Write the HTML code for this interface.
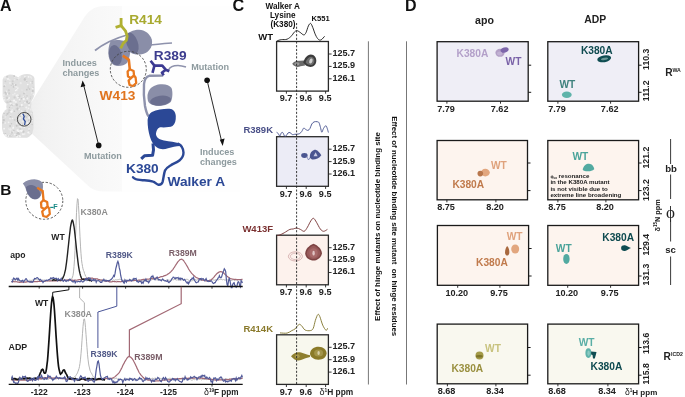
<!DOCTYPE html>
<html><head><meta charset="utf-8"><style>
html,body{margin:0;padding:0;background:#fff;width:685px;height:397px;overflow:hidden}
svg{display:block;font-family:"Liberation Sans", sans-serif;will-change:transform}
</style></head><body>
<svg width="685" height="397" viewBox="0 0 685 397">
<defs>
<linearGradient id="cone" gradientUnits="userSpaceOnUse" x1="29" y1="0" x2="122" y2="0">
<stop offset="0" stop-color="#eeeeee"/>
<stop offset="0.17" stop-color="#f2f2f2"/>
<stop offset="0.44" stop-color="#f5f5f5"/>
<stop offset="0.76" stop-color="#f8f8f8"/>
<stop offset="1" stop-color="#fafafa"/>
</linearGradient>
</defs>
<path d="M29,106 L82,21 Q90,6 104,6 L122,6 L122,191.5 L104,191.5 Q96,191.5 90,187.5 L29,131 Z" fill="url(#cone)"/>
<rect x="122" y="6" width="118" height="185.5" fill="#fefefe"/>
<path d="M2.6,80 C3,77 6,75 10,74.5 C14,74.5 16,76 18.5,77.5 C20,75.5 23,74 27,74 C31,74.2 33.5,75.5 34.4,78 L34.8,92 C34.5,96 33,99 31.5,101 L31,108 C32.5,111 33.5,114 33.5,118 L33.5,128 C33,133 30.5,136.5 27,137.8 L8,137.8 C4.5,136.5 2.5,133 2,128 L2,116 C2.5,113 4,111 6,109.5 L6.5,104 C4,102 2.6,99 2.6,95 Z" fill="#e0e0e0"/>
<clipPath id="prot"><path d="M2.6,80 C3,77 6,75 10,74.5 C14,74.5 16,76 18.5,77.5 C20,75.5 23,74 27,74 C31,74.2 33.5,75.5 34.4,78 L34.8,92 C34.5,96 33,99 31.5,101 L31,108 C32.5,111 33.5,114 33.5,118 L33.5,128 C33,133 30.5,136.5 27,137.8 L8,137.8 C4.5,136.5 2.5,133 2,128 L2,116 C2.5,113 4,111 6,109.5 L6.5,104 C4,102 2.6,99 2.6,95 Z"/></clipPath>
<g clip-path="url(#prot)"><circle cx="22.3" cy="121.2" r="0.5" fill="#f6f6f6"/><circle cx="17.4" cy="133.5" r="1.1" fill="#c8c8c8"/><circle cx="6.5" cy="104.6" r="0.8" fill="#f2f2f2"/><circle cx="6.2" cy="91.2" r="0.8" fill="#f2f2f2"/><circle cx="8.6" cy="128.9" r="0.6" fill="#ececec"/><circle cx="27.7" cy="84.5" r="0.8" fill="#f6f6f6"/><circle cx="7.1" cy="135.3" r="0.6" fill="#c8c8c8"/><circle cx="9.7" cy="135.9" r="0.7" fill="#f2f2f2"/><circle cx="32.8" cy="108.9" r="0.6" fill="#f2f2f2"/><circle cx="33.0" cy="88.0" r="0.7" fill="#ececec"/><circle cx="14.2" cy="86.1" r="0.7" fill="#f2f2f2"/><circle cx="13.3" cy="125.9" r="0.5" fill="#f6f6f6"/><circle cx="24.0" cy="96.6" r="0.7" fill="#d0d0d0"/><circle cx="12.5" cy="118.5" r="0.8" fill="#f2f2f2"/><circle cx="24.8" cy="79.5" r="1.2" fill="#c8c8c8"/><circle cx="14.1" cy="100.7" r="1.1" fill="#f6f6f6"/><circle cx="14.4" cy="111.3" r="0.8" fill="#c8c8c8"/><circle cx="24.9" cy="114.0" r="0.6" fill="#f2f2f2"/><circle cx="10.6" cy="126.0" r="0.7" fill="#ececec"/><circle cx="14.0" cy="108.0" r="0.6" fill="#ececec"/><circle cx="26.2" cy="124.6" r="0.5" fill="#d0d0d0"/><circle cx="32.3" cy="81.6" r="0.9" fill="#d0d0d0"/><circle cx="14.2" cy="85.0" r="1.1" fill="#d0d0d0"/><circle cx="19.9" cy="95.1" r="0.7" fill="#d0d0d0"/><circle cx="27.8" cy="114.2" r="1.2" fill="#d0d0d0"/><circle cx="8.0" cy="79.0" r="0.9" fill="#f6f6f6"/><circle cx="15.6" cy="90.5" r="0.7" fill="#f6f6f6"/><circle cx="10.8" cy="115.7" r="0.5" fill="#f2f2f2"/><circle cx="31.4" cy="78.0" r="0.7" fill="#ececec"/><circle cx="9.4" cy="135.9" r="1.2" fill="#f6f6f6"/><circle cx="22.5" cy="124.1" r="0.6" fill="#c8c8c8"/><circle cx="14.6" cy="79.6" r="0.7" fill="#ececec"/><circle cx="17.0" cy="137.0" r="1.2" fill="#f2f2f2"/><circle cx="17.1" cy="105.8" r="0.8" fill="#d0d0d0"/><circle cx="12.0" cy="100.6" r="0.6" fill="#f2f2f2"/><circle cx="28.5" cy="108.4" r="0.9" fill="#f2f2f2"/><circle cx="18.5" cy="96.6" r="0.8" fill="#c8c8c8"/><circle cx="19.0" cy="109.4" r="0.8" fill="#f6f6f6"/><circle cx="27.4" cy="123.3" r="1.0" fill="#f6f6f6"/><circle cx="26.5" cy="98.2" r="1.1" fill="#d0d0d0"/><circle cx="11.2" cy="135.8" r="1.2" fill="#d0d0d0"/><circle cx="13.5" cy="86.9" r="0.8" fill="#c8c8c8"/><circle cx="27.0" cy="95.9" r="0.8" fill="#d0d0d0"/><circle cx="28.3" cy="115.5" r="0.7" fill="#d0d0d0"/><circle cx="23.0" cy="121.0" r="0.7" fill="#ececec"/><circle cx="29.1" cy="129.1" r="1.2" fill="#ececec"/><circle cx="32.7" cy="107.6" r="1.2" fill="#f6f6f6"/><circle cx="9.2" cy="98.1" r="0.7" fill="#ececec"/><circle cx="5.4" cy="116.9" r="0.6" fill="#ececec"/><circle cx="27.2" cy="111.4" r="0.7" fill="#ececec"/><circle cx="20.1" cy="128.9" r="1.0" fill="#d0d0d0"/><circle cx="3.9" cy="85.8" r="0.9" fill="#ececec"/><circle cx="8.6" cy="122.3" r="0.9" fill="#f2f2f2"/><circle cx="4.3" cy="104.8" r="0.6" fill="#f2f2f2"/><circle cx="30.6" cy="82.8" r="0.8" fill="#f2f2f2"/><circle cx="20.0" cy="101.3" r="0.8" fill="#d0d0d0"/><circle cx="22.0" cy="112.0" r="1.0" fill="#f2f2f2"/><circle cx="14.6" cy="97.4" r="1.1" fill="#d0d0d0"/><circle cx="29.9" cy="118.0" r="0.8" fill="#f6f6f6"/><circle cx="4.1" cy="113.4" r="0.7" fill="#c8c8c8"/><circle cx="18.9" cy="134.0" r="1.2" fill="#d0d0d0"/><circle cx="28.4" cy="101.6" r="0.9" fill="#f6f6f6"/><circle cx="14.5" cy="84.7" r="0.8" fill="#f6f6f6"/><circle cx="17.8" cy="88.1" r="0.9" fill="#f2f2f2"/><circle cx="13.9" cy="130.5" r="0.8" fill="#c8c8c8"/><circle cx="13.1" cy="131.9" r="0.6" fill="#f6f6f6"/><circle cx="22.5" cy="130.4" r="0.8" fill="#ececec"/><circle cx="33.3" cy="106.1" r="1.2" fill="#ececec"/><circle cx="14.8" cy="134.6" r="0.9" fill="#f2f2f2"/><circle cx="11.1" cy="135.8" r="0.7" fill="#ececec"/><circle cx="3.6" cy="133.7" r="0.8" fill="#d0d0d0"/><circle cx="11.9" cy="105.1" r="1.0" fill="#c8c8c8"/><circle cx="32.8" cy="91.0" r="1.0" fill="#c8c8c8"/><circle cx="28.6" cy="76.8" r="0.9" fill="#f6f6f6"/><circle cx="10.5" cy="104.9" r="0.7" fill="#c8c8c8"/><circle cx="11.3" cy="85.4" r="0.7" fill="#d0d0d0"/><circle cx="21.8" cy="105.0" r="1.1" fill="#f6f6f6"/><circle cx="30.7" cy="77.0" r="0.7" fill="#f2f2f2"/><circle cx="19.5" cy="96.5" r="1.0" fill="#d0d0d0"/><circle cx="3.8" cy="97.3" r="0.6" fill="#f6f6f6"/><circle cx="3.1" cy="109.7" r="1.1" fill="#c8c8c8"/><circle cx="19.9" cy="76.9" r="0.9" fill="#ececec"/><circle cx="24.4" cy="134.1" r="1.1" fill="#ececec"/><circle cx="29.1" cy="105.0" r="1.1" fill="#f2f2f2"/><circle cx="17.4" cy="122.3" r="1.1" fill="#d0d0d0"/><circle cx="24.5" cy="102.4" r="1.0" fill="#d0d0d0"/><circle cx="17.6" cy="95.0" r="0.8" fill="#f2f2f2"/><circle cx="20.0" cy="106.4" r="0.9" fill="#d0d0d0"/><circle cx="16.2" cy="109.0" r="0.5" fill="#c8c8c8"/><circle cx="10.1" cy="126.0" r="1.0" fill="#c8c8c8"/><circle cx="3.8" cy="120.1" r="1.2" fill="#c8c8c8"/><circle cx="24.7" cy="79.0" r="0.7" fill="#c8c8c8"/><circle cx="23.0" cy="134.1" r="1.2" fill="#f2f2f2"/><circle cx="24.9" cy="102.7" r="0.9" fill="#f2f2f2"/><circle cx="15.8" cy="85.8" r="0.6" fill="#f6f6f6"/><circle cx="20.2" cy="116.3" r="0.7" fill="#c8c8c8"/><circle cx="20.7" cy="83.2" r="1.1" fill="#ececec"/><circle cx="7.2" cy="102.3" r="1.0" fill="#d0d0d0"/><circle cx="18.2" cy="97.6" r="1.1" fill="#d0d0d0"/><circle cx="7.3" cy="94.0" r="0.9" fill="#f6f6f6"/><circle cx="18.7" cy="131.5" r="0.9" fill="#f6f6f6"/><circle cx="9.8" cy="79.9" r="0.7" fill="#f2f2f2"/><circle cx="26.3" cy="107.5" r="1.1" fill="#f2f2f2"/><circle cx="29.8" cy="103.7" r="0.6" fill="#ececec"/><circle cx="25.1" cy="116.0" r="0.9" fill="#c8c8c8"/><circle cx="4.1" cy="128.7" r="0.9" fill="#f6f6f6"/><circle cx="10.4" cy="129.5" r="1.2" fill="#ececec"/><circle cx="6.3" cy="108.4" r="1.0" fill="#f6f6f6"/><circle cx="4.7" cy="85.2" r="1.0" fill="#ececec"/><circle cx="9.9" cy="83.1" r="1.1" fill="#ececec"/><circle cx="7.3" cy="114.1" r="1.1" fill="#d0d0d0"/><circle cx="12.0" cy="132.8" r="1.1" fill="#d0d0d0"/><circle cx="14.7" cy="120.1" r="1.0" fill="#d0d0d0"/><circle cx="27.9" cy="102.4" r="0.9" fill="#d0d0d0"/><circle cx="21.4" cy="111.0" r="0.8" fill="#f2f2f2"/><circle cx="6.0" cy="78.0" r="0.6" fill="#f2f2f2"/><circle cx="18.2" cy="133.2" r="0.5" fill="#d0d0d0"/><circle cx="17.6" cy="130.3" r="1.1" fill="#f6f6f6"/><circle cx="13.0" cy="104.2" r="0.6" fill="#f2f2f2"/><circle cx="7.9" cy="98.9" r="1.1" fill="#ececec"/><circle cx="17.6" cy="109.7" r="0.7" fill="#c8c8c8"/><circle cx="8.0" cy="93.5" r="0.5" fill="#f2f2f2"/><circle cx="30.8" cy="97.0" r="0.7" fill="#d0d0d0"/><circle cx="4.8" cy="77.3" r="0.8" fill="#ececec"/><circle cx="32.3" cy="83.2" r="0.7" fill="#d0d0d0"/><circle cx="23.9" cy="120.5" r="0.5" fill="#f2f2f2"/><circle cx="25.2" cy="111.1" r="0.9" fill="#c8c8c8"/><circle cx="31.3" cy="119.1" r="0.6" fill="#d0d0d0"/><circle cx="14.2" cy="80.1" r="0.6" fill="#ececec"/><circle cx="10.5" cy="117.0" r="1.0" fill="#c8c8c8"/><circle cx="16.4" cy="135.5" r="0.8" fill="#c8c8c8"/><circle cx="17.0" cy="117.6" r="0.5" fill="#f2f2f2"/><circle cx="20.0" cy="136.4" r="0.9" fill="#f6f6f6"/><circle cx="32.1" cy="119.7" r="1.1" fill="#f2f2f2"/><circle cx="18.2" cy="133.1" r="1.0" fill="#c8c8c8"/><circle cx="23.0" cy="106.3" r="0.5" fill="#c8c8c8"/><circle cx="28.8" cy="103.2" r="1.1" fill="#c8c8c8"/><circle cx="32.5" cy="87.9" r="0.9" fill="#f6f6f6"/><circle cx="8.8" cy="90.3" r="1.1" fill="#d0d0d0"/><circle cx="5.7" cy="136.1" r="0.9" fill="#f2f2f2"/><circle cx="29.6" cy="89.1" r="0.8" fill="#c8c8c8"/><circle cx="14.1" cy="101.8" r="0.9" fill="#ececec"/><circle cx="7.1" cy="76.8" r="1.0" fill="#d0d0d0"/><circle cx="30.6" cy="137.0" r="0.6" fill="#f6f6f6"/><circle cx="12.7" cy="81.3" r="1.1" fill="#d0d0d0"/><circle cx="12.7" cy="83.9" r="0.8" fill="#c8c8c8"/><circle cx="24.6" cy="124.7" r="1.0" fill="#f6f6f6"/><circle cx="11.6" cy="106.1" r="0.5" fill="#f2f2f2"/><circle cx="9.2" cy="93.4" r="1.1" fill="#d0d0d0"/><circle cx="5.2" cy="122.9" r="1.0" fill="#ececec"/><circle cx="20.2" cy="130.7" r="0.9" fill="#f2f2f2"/><circle cx="16.7" cy="125.8" r="1.0" fill="#c8c8c8"/><circle cx="24.7" cy="92.3" r="0.9" fill="#ececec"/><circle cx="13.0" cy="94.7" r="0.7" fill="#f2f2f2"/><circle cx="24.0" cy="93.4" r="0.9" fill="#c8c8c8"/><circle cx="25.9" cy="77.7" r="0.5" fill="#c8c8c8"/><circle cx="7.0" cy="97.8" r="1.2" fill="#d0d0d0"/><circle cx="22.0" cy="90.1" r="0.6" fill="#ececec"/><circle cx="9.2" cy="97.9" r="0.9" fill="#f2f2f2"/><circle cx="28.6" cy="120.3" r="0.7" fill="#c8c8c8"/><circle cx="21.8" cy="114.5" r="0.8" fill="#f2f2f2"/><circle cx="32.1" cy="124.5" r="0.7" fill="#c8c8c8"/><circle cx="16.8" cy="89.9" r="0.8" fill="#f6f6f6"/><circle cx="16.7" cy="122.8" r="0.9" fill="#f2f2f2"/><circle cx="33.1" cy="112.4" r="0.6" fill="#c8c8c8"/><circle cx="29.4" cy="117.8" r="1.2" fill="#f2f2f2"/><circle cx="4.0" cy="111.2" r="1.0" fill="#ececec"/><circle cx="14.0" cy="104.3" r="0.7" fill="#f2f2f2"/><circle cx="9.2" cy="110.3" r="1.0" fill="#d0d0d0"/><circle cx="27.3" cy="98.4" r="1.1" fill="#f2f2f2"/><circle cx="23.6" cy="131.4" r="0.9" fill="#c8c8c8"/><circle cx="15.4" cy="84.7" r="0.8" fill="#f2f2f2"/><circle cx="4.2" cy="86.3" r="1.0" fill="#c8c8c8"/><circle cx="11.7" cy="132.2" r="0.8" fill="#d0d0d0"/><circle cx="17.6" cy="108.6" r="1.1" fill="#c8c8c8"/><circle cx="14.7" cy="76.6" r="0.9" fill="#f6f6f6"/><circle cx="22.2" cy="125.6" r="0.7" fill="#c8c8c8"/><circle cx="3.8" cy="95.0" r="0.9" fill="#ececec"/><circle cx="19.9" cy="118.1" r="1.2" fill="#ececec"/><circle cx="28.3" cy="132.4" r="1.0" fill="#f6f6f6"/><circle cx="19.6" cy="124.7" r="1.2" fill="#d0d0d0"/><circle cx="3.6" cy="123.0" r="0.7" fill="#f2f2f2"/><circle cx="5.4" cy="81.3" r="0.9" fill="#d0d0d0"/><circle cx="29.8" cy="133.4" r="0.7" fill="#ececec"/><circle cx="31.8" cy="92.8" r="0.6" fill="#f2f2f2"/><circle cx="26.4" cy="116.9" r="1.1" fill="#d0d0d0"/><circle cx="24.3" cy="127.1" r="0.9" fill="#f6f6f6"/><circle cx="9.5" cy="107.5" r="0.7" fill="#c8c8c8"/><circle cx="33.2" cy="109.2" r="1.2" fill="#ececec"/><circle cx="23.8" cy="99.1" r="1.1" fill="#f6f6f6"/><circle cx="31.2" cy="113.4" r="0.7" fill="#ececec"/><circle cx="29.1" cy="130.2" r="0.7" fill="#d0d0d0"/><circle cx="6.1" cy="93.9" r="1.1" fill="#d0d0d0"/><circle cx="5.4" cy="134.0" r="0.9" fill="#c8c8c8"/><circle cx="26.8" cy="89.7" r="0.9" fill="#c8c8c8"/><circle cx="22.4" cy="115.0" r="1.0" fill="#f6f6f6"/><circle cx="15.9" cy="101.9" r="0.9" fill="#f6f6f6"/><circle cx="10.6" cy="101.5" r="0.9" fill="#c8c8c8"/><circle cx="33.0" cy="87.4" r="0.6" fill="#c8c8c8"/><circle cx="12.2" cy="109.9" r="0.6" fill="#f6f6f6"/><circle cx="8.9" cy="112.3" r="1.0" fill="#d0d0d0"/><circle cx="4.9" cy="105.6" r="1.2" fill="#f6f6f6"/><circle cx="12.9" cy="127.9" r="1.1" fill="#ececec"/><circle cx="10.1" cy="118.5" r="1.1" fill="#ececec"/><circle cx="3.0" cy="117.0" r="0.6" fill="#c8c8c8"/><circle cx="7.7" cy="113.6" r="0.9" fill="#c8c8c8"/><circle cx="16.7" cy="95.7" r="1.0" fill="#f2f2f2"/><circle cx="31.6" cy="134.4" r="0.8" fill="#c8c8c8"/><circle cx="28.2" cy="87.9" r="0.8" fill="#d0d0d0"/><circle cx="17.2" cy="117.5" r="0.7" fill="#c8c8c8"/><circle cx="32.2" cy="104.4" r="0.6" fill="#c8c8c8"/><circle cx="21.5" cy="98.8" r="0.8" fill="#c8c8c8"/><circle cx="32.8" cy="133.6" r="0.8" fill="#c8c8c8"/><circle cx="32.1" cy="119.5" r="0.6" fill="#c8c8c8"/><circle cx="17.8" cy="97.6" r="1.1" fill="#f2f2f2"/><circle cx="14.8" cy="93.7" r="0.9" fill="#ececec"/><circle cx="26.7" cy="81.4" r="0.7" fill="#c8c8c8"/><circle cx="13.4" cy="127.7" r="0.8" fill="#f6f6f6"/><circle cx="9.8" cy="136.1" r="1.0" fill="#d0d0d0"/><circle cx="5.3" cy="92.5" r="0.9" fill="#c8c8c8"/><circle cx="16.4" cy="87.0" r="1.1" fill="#ececec"/><circle cx="10.6" cy="103.6" r="1.1" fill="#f2f2f2"/><circle cx="3.2" cy="122.7" r="1.1" fill="#d0d0d0"/><circle cx="3.7" cy="110.3" r="1.1" fill="#ececec"/><circle cx="5.4" cy="135.3" r="1.2" fill="#f2f2f2"/><circle cx="16.7" cy="104.8" r="1.2" fill="#c8c8c8"/><circle cx="21.5" cy="127.2" r="0.9" fill="#ececec"/><circle cx="4.6" cy="100.0" r="0.8" fill="#f6f6f6"/><circle cx="21.4" cy="131.0" r="0.9" fill="#f6f6f6"/><circle cx="4.1" cy="77.5" r="1.1" fill="#ececec"/><circle cx="28.5" cy="102.4" r="0.5" fill="#ececec"/><circle cx="28.3" cy="86.2" r="0.6" fill="#d0d0d0"/><circle cx="27.2" cy="101.8" r="1.2" fill="#c8c8c8"/><circle cx="9.7" cy="101.7" r="0.6" fill="#d0d0d0"/><circle cx="14.3" cy="76.1" r="1.0" fill="#c8c8c8"/><circle cx="26.5" cy="80.7" r="0.5" fill="#ececec"/><circle cx="15.7" cy="85.1" r="1.0" fill="#c8c8c8"/><circle cx="18.3" cy="95.4" r="0.6" fill="#ececec"/><circle cx="10.3" cy="132.1" r="0.5" fill="#f6f6f6"/><circle cx="8.7" cy="102.2" r="0.6" fill="#d0d0d0"/><circle cx="23.3" cy="96.4" r="0.6" fill="#f2f2f2"/><circle cx="19.1" cy="135.5" r="0.6" fill="#f6f6f6"/><circle cx="6.4" cy="115.3" r="0.7" fill="#d0d0d0"/><circle cx="31.1" cy="109.4" r="1.2" fill="#ececec"/><circle cx="10.5" cy="110.7" r="0.5" fill="#d0d0d0"/><circle cx="3.4" cy="99.5" r="0.8" fill="#f2f2f2"/><circle cx="24.9" cy="76.5" r="0.8" fill="#f2f2f2"/><circle cx="18.6" cy="113.2" r="0.5" fill="#d0d0d0"/><circle cx="18.5" cy="78.3" r="1.1" fill="#ececec"/><circle cx="27.1" cy="110.0" r="0.8" fill="#ececec"/><circle cx="23.3" cy="132.4" r="0.9" fill="#d0d0d0"/><circle cx="11.5" cy="111.6" r="1.2" fill="#f6f6f6"/><circle cx="33.6" cy="94.4" r="0.9" fill="#f2f2f2"/><circle cx="24.2" cy="115.3" r="1.0" fill="#c8c8c8"/><circle cx="19.4" cy="99.7" r="0.7" fill="#f6f6f6"/><circle cx="20.1" cy="126.6" r="0.8" fill="#f2f2f2"/><circle cx="5.0" cy="76.2" r="0.6" fill="#f6f6f6"/><circle cx="17.1" cy="79.6" r="0.6" fill="#c8c8c8"/><circle cx="30.4" cy="98.8" r="0.7" fill="#d0d0d0"/><circle cx="11.5" cy="123.8" r="0.7" fill="#c8c8c8"/></g>
<circle cx="24.2" cy="119.3" r="6.8" fill="none" stroke="#333" stroke-width="0.9"/>
<path d="M22.8,113.8 L24.2,116.5 L23.4,119 L25.2,121.5 L24.6,125" fill="none" stroke="#2b4a9a" stroke-width="1.3"/>
<path d="M95,50.5 C100,46.5 104,44.3 109,41.8 C115,39 121,36.5 128.5,34.5" fill="none" stroke="#8e92ac" stroke-width="1.8"/>
<path d="M148,45.5 C156,44.2 164,43.6 172,43" fill="none" stroke="#8e92ac" stroke-width="1.5"/>
<path d="M168.5,70 C170,66.5 173,65.4 178,65.4 C181,65.4 184,66.3 186,67" fill="none" stroke="#8e92ac" stroke-width="1.5"/>
<path d="M163.2,75.6 L149.3,75.8 C146,76.5 144.5,79 144,84 C143.5,92 144,100 145,106 C146,111 147,114 148.5,116.5" fill="none" stroke="#8e92ac" stroke-width="2.4"/>
<path d="M111,41 C115,39.5 121,39.8 126,41.5 L130,44 C131,50 130,58 127,63 C124.5,65.5 119,66.5 115,65.5 C110.5,64 108.2,58 108.3,52 C108.4,47 109.5,43 111,41 Z" fill="#8a8ea8"/>
<ellipse cx="115.4" cy="55.2" rx="6.3" ry="10.3" fill="#6b6f8f" transform="rotate(-12 115.4 55.2)"/>
<path d="M126,37 C128,32 133,29.8 139,29.8 C145,30 150,34 151.8,39.5 C153,45 150.5,50.5 145.5,53 C140.5,55.2 134.5,55.2 130.5,52.6 C127.2,50 125.5,43 126,37 Z" fill="#8a8ea8"/>
<ellipse cx="132.2" cy="43" rx="5.6" ry="11" fill="#6b6f8f" transform="rotate(-20 132.2 43)"/>
<path d="M147.5,95 C148.5,89 152,86 158,84.5 C164,83.5 169.5,84.5 171.5,88 C173,92 172.5,98 171,101.5 C169,104.5 163,106 158,105.8 C153,105.5 149,104 148,101 C147.5,99 147.3,97 147.5,95 Z" fill="#8a8ea8"/>
<ellipse cx="160.5" cy="100.6" rx="10.6" ry="4.9" fill="#6b6f8f" transform="rotate(-8 160.5 100.6)"/>
<circle cx="128.3" cy="69.3" r="18" fill="none" stroke="#444" stroke-width="0.9" stroke-dasharray="2.3,1.7"/>
<path d="M151.9,112 C157,109.5 165,108.5 169.5,108.8 C173,109 175.5,111.5 175.8,116 C176,120.5 175,124 172.5,126 C170,127.5 164,127.5 160,127.3 C157.5,128 156,131.5 156,134.5 C156.5,137.5 159,139.5 164,140.5 C170,141.5 175,142 179,143.3 L180,146 C176,146 172,147 168,148.3 C164,149.6 160,149.5 157,147.5 C154,145.5 151.5,142 150,137 C148.5,132 147.5,126 147.6,120 C148,116 149.5,113.5 151.9,112 Z" fill="#2b4896"/>
<path d="M178.4,143.8 C181,145 183.3,148.5 183.5,152.6 C183.5,156 181.5,158.8 179.7,160.2 C176,163 173,163.5 170.9,165.2 C168,167 166,168 165,170.5 C164,173 163.5,178 162.7,181.6 C162,184 160.5,185 158.5,184.8 C156.5,184.5 155,182 153.2,181.6 C150,180.8 147,180.5 144.4,180.3 C140,180 137,180 135,178.8 C134,178.3 133.5,177.8 133,177.2" fill="none" stroke="#2b4896" stroke-width="2.4" stroke-linejoin="round" stroke-linecap="round"/>
<polyline points="153,143.5 153.5,150 152.6,155.3 144.4,155.8 141.2,158.9" fill="none" stroke="#2b4896" stroke-width="3" stroke-linejoin="round"/>
<polyline points="121.1,18 121.1,26" fill="none" stroke="#b0b032" stroke-width="2.8"/>
<polyline points="115.6,27.4 121.1,25.6 125.6,31.2 127.2,36.1 126.4,40.2 123.1,43.5 120.7,48.4" fill="none" stroke="#b0b032" stroke-width="2.8" stroke-linejoin="round"/>
<polyline points="122.8,55.6 128.8,59.6 129.8,69.3" fill="none" stroke="#e8781e" stroke-width="2.6" stroke-linejoin="round"/>
<path d="M129.8,69.3 L127.6,71.5 L128,76.5 L131,78 L134,75.5 L133.6,71 Z" fill="none" stroke="#e8781e" stroke-width="2.3" stroke-linejoin="round"/>
<path d="M131,78 L128.6,80.5 L129.6,85 L133,86 L136.2,83 L135.6,77.5 L134,75.5" fill="none" stroke="#e8781e" stroke-width="2.3" stroke-linejoin="round"/>
<polyline points="150.6,60.7 154.4,65.6 152.5,72.8" fill="none" stroke="#3c3a92" stroke-width="2.6" stroke-linejoin="round"/>
<polyline points="154.4,65.6 162.3,65.6 165.7,69.7 169.3,71.3" fill="none" stroke="#3c3a92" stroke-width="2.6" stroke-linejoin="round"/>
<polyline points="165.7,69.7 161.9,72.8 163.8,75.2" fill="none" stroke="#3c3a92" stroke-width="2.6" stroke-linejoin="round"/>
<text x="129.2" y="23.8" font-size="13.7" fill="#a8aa30" text-anchor="start" font-weight="bold" >R414</text>
<text x="153.8" y="60.2" font-size="13.7" fill="#3c3c8e" text-anchor="start" font-weight="bold" >R389</text>
<text x="99.6" y="100.2" font-size="13.7" fill="#e0741e" text-anchor="start" font-weight="bold" >W413</text>
<text x="126" y="173.1" font-size="13.7" fill="#2b4896" text-anchor="start" font-weight="bold" >K380</text>
<text x="167.5" y="186" font-size="13.7" fill="#2b4896" text-anchor="start" font-weight="bold" >Walker A</text>
<text x="62.5" y="66.2" font-size="9.1" fill="#8d9a9e" text-anchor="start" font-weight="bold" >Induces</text>
<text x="62.5" y="75.6" font-size="9.1" fill="#8d9a9e" text-anchor="start" font-weight="bold" >changes</text>
<text x="84" y="158.6" font-size="9.1" fill="#8d9a9e" text-anchor="start" font-weight="bold" >Mutation</text>
<text x="191.2" y="69.8" font-size="9.1" fill="#8d9a9e" text-anchor="start" font-weight="bold" >Mutation</text>
<text x="200" y="155.3" font-size="9.1" fill="#8d9a9e" text-anchor="start" font-weight="bold" >Induces</text>
<text x="200" y="165.3" font-size="9.1" fill="#8d9a9e" text-anchor="start" font-weight="bold" >changes</text>
<circle cx="98.7" cy="145.4" r="2.8" fill="#111"/>
<line x1="98.7" y1="145.4" x2="83.5" y2="84.5" stroke="#111" stroke-width="0.9"/>
<path d="M82.6,80.6 L80.6,87.2 L85.4,86 Z" fill="#111"/>
<circle cx="207.1" cy="80.3" r="2.8" fill="#111"/>
<line x1="207.1" y1="80.3" x2="221.8" y2="142" stroke="#111" stroke-width="0.9"/>
<path d="M222.7,146 L219.8,139.7 L224.6,138.6 Z" fill="#111"/>
<path d="M11.50,279.57 L12.00,279.72 L12.50,279.69 L13.00,279.61 L13.50,279.98 L14.00,280.00 L14.50,279.92 L15.00,280.48 L15.50,280.23 L16.00,279.81 L16.50,279.43 L17.00,279.39 L17.50,279.71 L18.00,280.02 L18.50,280.36 L19.00,280.84 L19.50,281.19 L20.00,281.15 L20.50,281.33 L21.00,281.27 L21.50,280.86 L22.00,280.95 L22.50,280.79 L23.00,280.58 L23.50,281.08 L24.00,281.12 L24.50,280.76 L25.00,280.60 L25.50,281.21 L26.00,280.91 L26.50,280.96 L27.00,280.98 L27.50,280.95 L28.00,280.96 L28.50,280.64 L29.00,280.38 L29.50,280.28 L30.00,280.13 L30.50,280.37 L31.00,280.78 L31.50,280.37 L32.00,280.48 L32.50,280.10 L33.00,279.89 L33.50,279.85 L34.00,279.93 L34.50,279.83 L35.00,279.09 L35.50,279.71 L36.00,279.70 L36.50,279.58 L37.00,279.89 L37.50,279.75 L38.00,279.38 L38.50,279.67 L39.00,279.88 L39.50,279.67 L40.00,280.01 L40.50,280.14 L41.00,279.78 L41.50,280.37 L42.00,280.40 L42.50,279.99 L43.00,280.15 L43.50,280.17 L44.00,280.45 L44.50,279.97 L45.00,280.31 L45.50,280.55 L46.00,280.67 L46.50,280.73 L47.00,281.00 L47.50,281.04 L48.00,280.89 L48.50,280.47 L49.00,280.73 L49.50,280.90 L50.00,280.83 L50.50,280.72 L51.00,280.82 L51.50,279.90 L52.00,280.03 L52.50,279.28 L53.00,279.52 L53.50,279.95 L54.00,280.55 L54.50,280.31 L55.00,280.40 L55.50,280.31 L56.00,279.59 L56.50,279.91 L57.00,279.94 L57.50,279.98 L58.00,279.72 L58.50,279.77 L59.00,279.86 L59.50,280.29 L60.00,280.34 L60.50,281.35 L61.00,280.97 L61.50,280.71 L62.00,280.56 L62.50,280.22 L63.00,280.65 L63.50,280.73 L64.00,280.21 L64.50,280.22 L65.00,280.53 L65.50,280.01 L66.00,280.06 L66.50,279.99 L67.00,280.70 L67.50,280.68 L68.00,280.41 L68.50,280.13 L69.00,280.63 L69.50,280.28 L70.00,280.79 L70.50,279.95 L71.00,279.59 L71.50,279.08 L72.00,278.20 L72.50,277.04 L73.00,275.36 L73.50,271.95 L74.00,266.56 L74.50,259.80 L75.00,250.49 L75.50,238.35 L76.00,225.56 L76.50,212.64 L77.00,203.78 L77.50,198.63 L78.00,199.17 L78.50,205.63 L79.00,214.62 L79.50,225.91 L80.00,236.81 L80.50,246.14 L81.00,253.73 L81.50,259.73 L82.00,263.50 L82.50,266.34 L83.00,268.81 L83.50,270.50 L84.00,271.58 L84.50,273.42 L85.00,274.60 L85.50,276.04 L86.00,276.52 L86.50,277.80 L87.00,277.92 L87.50,277.91 L88.00,278.31 L88.50,278.63 L89.00,279.08 L89.50,279.17 L90.00,279.59 L90.50,280.13 L91.00,279.95 L91.50,279.57 L92.00,279.56 L92.50,279.92 L93.00,280.21 L93.50,280.08 L94.00,279.78 L94.50,279.83 L95.00,280.17 L95.50,279.94 L96.00,280.36 L96.50,280.37 L97.00,280.40 L97.50,280.14 L98.00,280.54 L98.50,280.46 L99.00,279.93 L99.50,280.20 L100.00,280.05 L100.50,280.38 L101.00,280.37 L101.50,280.12 L102.00,280.16 L102.50,279.99 L103.00,279.76 L103.50,279.82 L104.00,280.13 L104.50,280.14 L105.00,280.10 L105.50,279.92 L106.00,280.12 L106.50,280.20 L107.00,280.46 L107.50,280.49 L108.00,281.06 L108.50,280.38 L109.00,280.30 L109.50,280.42 L110.00,280.62 L110.50,280.04 L111.00,279.68 L111.50,279.74 L112.00,280.13 L112.50,280.45 L113.00,279.91 L113.50,279.98 L114.00,280.35 L114.50,280.30 L115.00,279.94 L115.50,279.75 L116.00,279.41 L116.50,279.90 L117.00,279.86 L117.50,279.77 L118.00,279.56 L118.50,279.62 L119.00,279.43 L119.50,279.26 L120.00,279.41 L120.50,279.47 L121.00,279.73 L121.50,279.84 L122.00,280.24 L122.50,280.19 L123.00,280.25 L123.50,280.28 L124.00,279.99 L124.50,280.37 L125.00,280.13 L125.50,279.64 L126.00,280.10 L126.50,280.29 L127.00,280.08 L127.50,280.36 L128.00,280.60 L128.50,280.70 L129.00,280.22 L129.50,280.24 L130.00,279.89 L130.50,279.74 L131.00,279.63 L131.50,279.46 L132.00,279.73 L132.50,279.56 L133.00,279.85 L133.50,279.94 L134.00,279.78 L134.50,279.89 L135.00,280.13 L135.50,280.47 L136.00,280.31 L136.50,280.78 L137.00,280.81 L137.50,281.04 L138.00,280.44 L138.50,280.04 L139.00,280.41 L139.50,280.27 L140.00,280.37 L140.50,280.67 L141.00,280.11 L141.50,280.24 L142.00,280.79 L142.50,280.89 L143.00,280.75 L143.50,280.78 L144.00,280.64 L144.50,280.76 L145.00,281.01 L145.50,280.76 L146.00,280.79 L146.50,280.74 L147.00,280.83 L147.50,280.93 L148.00,280.43 L148.50,280.71 L149.00,280.84 L149.50,280.35 L150.00,280.21 L150.50,279.74 L151.00,279.72 L151.50,279.88 L152.00,279.57 L152.50,279.43 L153.00,279.29 L153.50,279.24 L154.00,279.17 L154.50,279.02 L155.00,279.40 L155.50,279.47 L156.00,279.34 L156.50,279.78 L157.00,279.67 L157.50,280.02 L158.00,279.65 L158.50,280.16 L159.00,280.00 L159.50,279.73 L160.00,279.92 L160.50,279.54 L161.00,279.32 L161.50,279.54 L162.00,279.50 L162.50,279.73 L163.00,279.84 L163.50,279.96 L164.00,280.02 L164.50,280.24 L165.00,280.21 L165.50,280.51 L166.00,280.71 L166.50,279.98 L167.00,279.47 L167.50,280.06 L168.00,279.92 L168.50,280.01 L169.00,279.98 L169.50,280.08 L170.00,280.74 L170.50,280.39 L171.00,280.35 L171.50,280.29 L172.00,279.92 L172.50,279.68 L173.00,279.68 L173.50,279.75 L174.00,279.93 L174.50,279.36 L175.00,279.03 L175.50,279.73 L176.00,279.74 L176.50,280.05 L177.00,279.93 L177.50,279.74 L178.00,280.44 L178.50,279.99 L179.00,279.73 L179.50,280.00 L180.00,280.02 L180.50,279.53 L181.00,279.68 L181.50,279.97 L182.00,279.53 L182.50,279.47 L183.00,279.82 L183.50,280.45 L184.00,279.67 L184.50,279.54 L185.00,279.65 L185.50,279.45 L186.00,279.30 L186.50,279.30 L187.00,279.61 L187.50,279.38 L188.00,279.77 L188.50,280.08 L189.00,280.33 L189.50,280.74 L190.00,280.44 L190.50,280.35 L191.00,280.59 L191.50,280.87 L192.00,280.99 L192.50,280.67 L193.00,280.40 L193.50,279.93 L194.00,279.82 L194.50,279.60 L195.00,279.54 L195.50,279.53 L196.00,279.89 L196.50,280.18 L197.00,280.14 L197.50,279.78 L198.00,279.82 L198.50,279.99 L199.00,280.26 L199.50,280.29 L200.00,280.48 L200.50,280.20 L201.00,280.37 L201.50,280.53 L202.00,280.32 L202.50,280.04 L203.00,280.42 L203.50,280.04 L204.00,280.25 L204.50,280.13 L205.00,280.01 L205.50,279.94 L206.00,279.83 L206.50,279.87 L207.00,280.44 L207.50,280.80 L208.00,280.61 L208.50,280.64 L209.00,280.80 L209.50,280.52 L210.00,280.98 L210.50,280.80 L211.00,280.84 L211.50,280.40 L212.00,279.99 L212.50,279.70 L213.00,279.58 L213.50,279.99 L214.00,279.90 L214.50,280.20 L215.00,280.04 L215.50,279.76 L216.00,279.87 L216.50,279.79 L217.00,279.34 L217.50,279.50 L218.00,279.96 L218.50,279.92 L219.00,279.58 L219.50,279.45 L220.00,279.21 L220.50,279.30 L221.00,279.17 L221.50,279.31 L222.00,279.51 L222.50,280.02 L223.00,279.68 L223.50,279.14 L224.00,279.81 L224.50,279.99 L225.00,279.89 L225.50,280.08 L226.00,279.79 L226.50,279.74 L227.00,280.01 L227.50,279.92 L228.00,279.99 L228.50,280.13 L229.00,280.15 L229.50,280.06 L230.00,280.21 L230.50,280.58 L231.00,280.86 L231.50,280.43 L232.00,280.58 L232.50,279.91 L233.00,279.51 L233.50,279.74 L234.00,279.96 L234.50,280.39 L235.00,279.81 L235.50,280.18 L236.00,279.99 L236.50,279.86 L237.00,280.03 L237.50,280.46 L238.00,280.10 L238.50,279.57 L239.00,279.49 L239.50,279.57 L240.00,280.02 L240.50,280.14 L241.00,280.03 L241.50,279.88 L242.00,279.78 L242.50,280.12" fill="none" stroke="#b4b4b4" stroke-width="1"/>
<path d="M11.50,281.56 L12.00,281.63 L12.50,281.76 L13.00,281.74 L13.50,281.64 L14.00,281.66 L14.50,281.74 L15.00,281.87 L15.50,281.77 L16.00,281.67 L16.50,281.77 L17.00,281.83 L17.50,282.00 L18.00,282.10 L18.50,282.09 L19.00,282.07 L19.50,282.32 L20.00,282.28 L20.50,282.20 L21.00,282.08 L21.50,282.09 L22.00,282.10 L22.50,282.06 L23.00,282.05 L23.50,282.07 L24.00,282.12 L24.50,282.21 L25.00,282.21 L25.50,282.02 L26.00,282.08 L26.50,281.92 L27.00,281.89 L27.50,281.74 L28.00,281.73 L28.50,281.65 L29.00,281.66 L29.50,281.96 L30.00,281.92 L30.50,281.97 L31.00,281.82 L31.50,281.76 L32.00,281.79 L32.50,281.75 L33.00,281.75 L33.50,281.73 L34.00,281.59 L34.50,281.61 L35.00,281.50 L35.50,281.64 L36.00,281.55 L36.50,281.57 L37.00,281.53 L37.50,281.57 L38.00,281.47 L38.50,281.51 L39.00,281.45 L39.50,281.51 L40.00,281.51 L40.50,281.47 L41.00,281.33 L41.50,281.35 L42.00,281.33 L42.50,281.43 L43.00,281.32 L43.50,281.31 L44.00,281.29 L44.50,281.25 L45.00,281.20 L45.50,281.15 L46.00,281.03 L46.50,280.87 L47.00,280.78 L47.50,280.78 L48.00,280.87 L48.50,280.90 L49.00,280.93 L49.50,280.94 L50.00,280.93 L50.50,280.88 L51.00,280.88 L51.50,280.98 L52.00,280.87 L52.50,280.74 L53.00,280.85 L53.50,280.80 L54.00,280.82 L54.50,280.83 L55.00,280.65 L55.50,280.82 L56.00,280.91 L56.50,280.85 L57.00,280.84 L57.50,280.78 L58.00,280.62 L58.50,280.55 L59.00,280.52 L59.50,280.57 L60.00,280.58 L60.50,280.52 L61.00,280.59 L61.50,280.46 L62.00,280.48 L62.50,280.53 L63.00,280.45 L63.50,280.23 L64.00,280.10 L64.50,280.10 L65.00,280.11 L65.50,280.23 L66.00,280.10 L66.50,280.07 L67.00,280.11 L67.50,280.06 L68.00,279.82 L68.50,279.88 L69.00,280.08 L69.50,280.15 L70.00,280.04 L70.50,279.98 L71.00,279.98 L71.50,280.19 L72.00,280.22 L72.50,280.19 L73.00,280.30 L73.50,280.25 L74.00,280.38 L74.50,280.26 L75.00,280.17 L75.50,280.19 L76.00,280.26 L76.50,280.26 L77.00,280.22 L77.50,279.98 L78.00,279.85 L78.50,279.73 L79.00,279.61 L79.50,279.60 L80.00,279.50 L80.50,279.50 L81.00,279.43 L81.50,279.31 L82.00,279.24 L82.50,279.20 L83.00,279.19 L83.50,279.05 L84.00,278.94 L84.50,278.73 L85.00,278.80 L85.50,278.85 L86.00,278.75 L86.50,278.62 L87.00,278.43 L87.50,278.39 L88.00,278.36 L88.50,278.51 L89.00,278.49 L89.50,278.38 L90.00,278.13 L90.50,278.26 L91.00,278.28 L91.50,278.14 L92.00,278.19 L92.50,278.09 L93.00,278.48 L93.50,278.64 L94.00,278.76 L94.50,278.81 L95.00,278.69 L95.50,278.78 L96.00,278.75 L96.50,278.93 L97.00,278.85 L97.50,278.91 L98.00,279.18 L98.50,279.48 L99.00,279.51 L99.50,279.51 L100.00,279.75 L100.50,279.98 L101.00,280.03 L101.50,280.10 L102.00,280.18 L102.50,280.21 L103.00,280.29 L103.50,280.54 L104.00,280.73 L104.50,281.04 L105.00,281.13 L105.50,281.21 L106.00,281.21 L106.50,281.28 L107.00,281.23 L107.50,281.14 L108.00,281.29 L108.50,281.49 L109.00,281.63 L109.50,281.79 L110.00,281.85 L110.50,281.81 L111.00,281.84 L111.50,281.83 L112.00,281.74 L112.50,281.60 L113.00,281.48 L113.50,281.51 L114.00,281.54 L114.50,281.51 L115.00,281.66 L115.50,281.68 L116.00,281.73 L116.50,281.84 L117.00,281.75 L117.50,281.55 L118.00,281.61 L118.50,281.54 L119.00,281.65 L119.50,281.66 L120.00,281.73 L120.50,281.77 L121.00,281.55 L121.50,281.59 L122.00,281.49 L122.50,281.40 L123.00,281.33 L123.50,281.38 L124.00,281.43 L124.50,281.49 L125.00,281.29 L125.50,281.20 L126.00,280.95 L126.50,280.92 L127.00,280.95 L127.50,280.85 L128.00,280.85 L128.50,280.84 L129.00,280.91 L129.50,280.80 L130.00,280.69 L130.50,280.59 L131.00,280.72 L131.50,280.79 L132.00,280.74 L132.50,280.72 L133.00,280.69 L133.50,280.66 L134.00,280.60 L134.50,280.53 L135.00,280.37 L135.50,280.28 L136.00,280.40 L136.50,280.41 L137.00,280.37 L137.50,280.31 L138.00,280.27 L138.50,280.27 L139.00,280.16 L139.50,280.14 L140.00,280.13 L140.50,280.02 L141.00,279.91 L141.50,279.78 L142.00,279.65 L142.50,279.71 L143.00,279.46 L143.50,279.42 L144.00,279.34 L144.50,279.27 L145.00,279.26 L145.50,279.35 L146.00,279.34 L146.50,279.30 L147.00,279.22 L147.50,279.18 L148.00,279.24 L148.50,279.17 L149.00,279.03 L149.50,278.88 L150.00,278.75 L150.50,278.60 L151.00,278.68 L151.50,278.68 L152.00,278.62 L152.50,278.72 L153.00,278.61 L153.50,278.63 L154.00,278.64 L154.50,278.43 L155.00,278.22 L155.50,278.07 L156.00,278.09 L156.50,278.13 L157.00,277.93 L157.50,277.94 L158.00,277.80 L158.50,277.66 L159.00,277.50 L159.50,277.35 L160.00,277.06 L160.50,276.85 L161.00,276.61 L161.50,276.53 L162.00,276.59 L162.50,276.69 L163.00,276.48 L163.50,276.13 L164.00,275.91 L164.50,275.63 L165.00,275.62 L165.50,275.45 L166.00,275.15 L166.50,274.99 L167.00,274.77 L167.50,274.33 L168.00,273.98 L168.50,273.64 L169.00,273.30 L169.50,272.94 L170.00,272.50 L170.50,272.07 L171.00,271.54 L171.50,270.94 L172.00,270.52 L172.50,269.95 L173.00,269.34 L173.50,268.50 L174.00,267.76 L174.50,267.08 L175.00,266.17 L175.50,265.48 L176.00,264.63 L176.50,263.87 L177.00,263.07 L177.50,262.34 L178.00,261.75 L178.50,261.07 L179.00,260.65 L179.50,260.10 L180.00,259.64 L180.50,259.45 L181.00,259.22 L181.50,259.18 L182.00,259.39 L182.50,259.75 L183.00,259.95 L183.50,260.48 L184.00,261.24 L184.50,262.01 L185.00,262.73 L185.50,263.48 L186.00,264.30 L186.50,265.08 L187.00,265.96 L187.50,266.85 L188.00,267.74 L188.50,268.74 L189.00,269.56 L189.50,270.24 L190.00,271.12 L190.50,271.75 L191.00,272.40 L191.50,273.03 L192.00,273.60 L192.50,274.07 L193.00,274.57 L193.50,275.25 L194.00,275.63 L194.50,276.02 L195.00,276.51 L195.50,276.92 L196.00,277.31 L196.50,277.68 L197.00,277.77 L197.50,277.95 L198.00,278.21 L198.50,278.49 L199.00,278.83 L199.50,279.08 L200.00,279.24 L200.50,279.42 L201.00,279.57 L201.50,279.74 L202.00,279.95 L202.50,280.05 L203.00,280.09 L203.50,280.12 L204.00,280.33 L204.50,280.54 L205.00,280.69 L205.50,280.82 L206.00,280.93 L206.50,280.93 L207.00,280.98 L207.50,280.84 L208.00,280.76 L208.50,280.61 L209.00,280.56 L209.50,280.35 L210.00,280.16 L210.50,279.97 L211.00,279.82 L211.50,279.42 L212.00,278.97 L212.50,278.64 L213.00,278.08 L213.50,277.63 L214.00,277.04 L214.50,276.47 L215.00,275.72 L215.50,275.19 L216.00,274.55 L216.50,273.89 L217.00,273.53 L217.50,273.06 L218.00,272.91 L218.50,272.51 L219.00,272.11 L219.50,271.83 L220.00,271.79 L220.50,271.68 L221.00,271.71 L221.50,271.83 L222.00,271.92 L222.50,272.18 L223.00,272.46 L223.50,272.74 L224.00,273.27 L224.50,273.82 L225.00,274.33 L225.50,274.77 L226.00,275.11 L226.50,275.68 L227.00,276.17 L227.50,276.49 L228.00,276.94 L228.50,277.21 L229.00,277.59 L229.50,277.94 L230.00,278.27 L230.50,278.54 L231.00,278.78 L231.50,278.85 L232.00,278.97 L232.50,279.04 L233.00,279.13 L233.50,279.23 L234.00,279.36 L234.50,279.56 L235.00,279.34 L235.50,279.41 L236.00,279.41 L236.50,279.64 L237.00,279.73 L237.50,279.57 L238.00,279.60 L238.50,279.55 L239.00,279.64 L239.50,279.54 L240.00,279.53 L240.50,279.51 L241.00,279.51 L241.50,279.46 L242.00,279.29 L242.50,279.35" fill="none" stroke="#a26874" stroke-width="1.2"/>
<path d="M52.00,279.98 L52.50,280.39 L53.00,280.10 L53.50,279.60 L54.00,279.76 L54.50,279.98 L55.00,280.10 L55.50,280.24 L56.00,280.17 L56.50,279.99 L57.00,279.80 L57.50,279.80 L58.00,279.74 L58.50,280.04 L59.00,280.18 L59.50,279.75 L60.00,279.90 L60.50,279.76 L61.00,279.87 L61.50,279.94 L62.00,279.57 L62.50,278.41 L63.00,277.83 L63.50,276.37 L64.00,275.56 L64.50,273.69 L65.00,271.60 L65.50,269.61 L66.00,266.07 L66.50,262.65 L67.00,258.46 L67.50,254.07 L68.00,249.30 L68.50,244.77 L69.00,239.88 L69.50,235.32 L70.00,231.16 L70.50,226.87 L71.00,224.26 L71.50,221.99 L72.00,220.37 L72.50,220.18 L73.00,221.50 L73.50,223.80 L74.00,226.51 L74.50,230.24 L75.00,234.58 L75.50,239.52 L76.00,244.27 L76.50,249.34 L77.00,253.70 L77.50,257.87 L78.00,262.08 L78.50,265.81 L79.00,268.81 L79.50,271.52 L80.00,273.65 L80.50,275.52 L81.00,277.10 L81.50,278.15 L82.00,279.02 L82.50,279.34 L83.00,279.51 L83.50,279.11 L84.00,279.52 L84.50,279.72 L85.00,279.99 L85.50,279.54 L86.00,279.55 L86.50,279.53 L87.00,279.17 L87.50,279.62 L88.00,280.07 L88.50,279.74 L89.00,279.94 L89.50,280.46 L90.00,280.07 L90.50,280.36 L91.00,280.75 L91.50,281.15 L92.00,280.58" fill="none" stroke="#222" stroke-width="1.4"/>
<path d="M11.50,281.21 L12.20,281.87 L12.90,280.04 L13.60,278.11 L14.30,278.48 L15.00,279.62 L15.70,279.57 L16.40,278.23 L17.10,278.18 L17.80,280.06 L18.50,278.67 L19.20,280.04 L19.90,280.55 L20.60,280.89 L21.30,281.43 L22.00,280.53 L22.70,280.28 L23.40,282.00 L24.10,281.12 L24.80,280.42 L25.50,278.93 L26.20,278.73 L26.90,279.78 L27.60,281.08 L28.30,281.45 L29.00,281.72 L29.70,281.87 L30.40,281.74 L31.10,282.30 L31.80,281.59 L32.50,282.25 L33.20,281.63 L33.90,279.65 L34.60,278.48 L35.30,278.67 L36.00,278.56 L36.70,277.73 L37.40,277.55 L38.10,278.35 L38.80,279.16 L39.50,280.21 L40.20,279.32 L40.90,279.86 L41.60,280.92 L42.30,281.04 L43.00,282.52 L43.70,281.43 L44.40,281.07 L45.10,280.98 L45.80,280.35 L46.50,280.21 L47.20,280.39 L47.90,280.26 L48.60,279.71 L49.30,279.35 L50.00,279.44 L50.70,278.08 L51.40,278.75 L52.10,277.99 L52.80,278.26 L53.50,277.63 L54.20,278.33 L54.90,278.38 L55.60,278.53 L56.30,278.18 L57.00,278.75 L57.70,280.62 L58.40,278.71 L59.10,279.54 L59.80,279.88 L60.50,279.54 L61.20,278.41 L61.90,280.35 L62.60,280.45 L63.30,281.31 L64.00,280.63 L64.70,279.73 L65.40,280.85 L66.10,281.36 L66.80,280.73 L67.50,280.34 L68.20,280.86 L68.90,279.87 L69.60,279.10 L70.30,279.29 L71.00,280.45 L71.70,281.17 L72.40,281.07 L73.10,282.11 L73.80,281.44 L74.50,280.61 L75.20,282.73 L75.90,281.58 L76.60,281.77 L77.30,281.87 L78.00,281.53 L78.70,281.37 L79.40,281.71 L80.10,281.82 L80.80,280.81 L81.50,280.62 L82.20,281.82 L82.90,282.08 L83.60,281.15 L84.30,280.93 L85.00,279.75 L85.70,278.57 L86.40,278.43 L87.10,280.38 L87.80,279.70 L88.50,277.87 L89.20,278.31 L89.90,278.08 L90.60,279.28 L91.30,280.67 L92.00,280.19 L92.70,280.27 L93.40,279.35 L94.10,280.69 L94.80,279.82 L95.50,279.91 L96.20,282.24 L96.90,280.79 L97.60,280.77 L98.30,280.54 L99.00,280.87 L99.70,281.12 L100.40,282.29 L101.10,282.20 L101.80,282.25 L102.50,280.51 L103.20,280.78 L103.90,279.32 L104.60,280.67 L105.30,280.46 L106.00,281.30 L106.70,280.51 L107.40,280.62 L108.10,280.56 L108.80,280.97 L109.50,280.64 L110.20,279.93 L110.90,279.58 L111.60,279.03 L112.30,278.24 L113.00,277.09 L113.70,275.43 L114.40,276.41 L115.10,273.14 L115.80,268.66 L116.50,266.02 L117.20,263.03 L117.90,261.39 L118.60,263.41 L119.30,267.93 L120.00,270.49 L120.70,275.49 L121.40,278.51 L122.10,281.01 L122.80,280.85 L123.50,282.56 L124.20,283.18 L124.90,279.94 L125.60,281.21 L126.30,282.22 L127.00,280.35 L127.70,280.60 L128.40,280.29 L129.10,280.45 L129.80,279.52 L130.50,280.28 L131.20,280.94 L131.90,280.62 L132.60,280.41 L133.30,278.66 L134.00,279.53 L134.70,278.44 L135.40,278.86 L136.10,278.39 L136.80,281.33 L137.50,281.01 L138.20,282.26 L138.90,281.67 L139.60,281.23 L140.30,281.65 L141.00,281.22 L141.70,283.19 L142.40,282.23 L143.10,283.26 L143.80,281.31 L144.50,280.12 L145.20,280.73 L145.90,279.23 L146.60,281.34 L147.30,281.54 L148.00,281.25 L148.70,282.67 L149.40,281.52 L150.10,280.43 L150.80,277.82 L151.50,276.50 L152.20,277.10 L152.90,275.83 L153.60,277.62 L154.30,279.18 L155.00,279.84 L155.70,278.31 L156.40,277.92 L157.10,277.11 L157.80,278.54 L158.50,279.91 L159.20,279.73 L159.90,279.87 L160.60,280.14 L161.30,280.83 L162.00,279.76 L162.70,278.91 L163.40,279.96 L164.10,280.48 L164.80,280.84 L165.50,280.70 L166.20,281.28 L166.90,281.44 L167.60,280.50 L168.30,282.05 L169.00,282.61 L169.70,281.74 L170.40,281.22 L171.10,280.23 L171.80,278.83 L172.50,278.11 L173.20,277.20 L173.90,277.27 L174.60,278.28 L175.30,278.66 L176.00,277.61 L176.70,278.02 L177.40,277.91 L178.10,277.37 L178.80,279.12 L179.50,278.33 L180.20,279.64 L180.90,278.09 L181.60,278.85 L182.30,278.46 L183.00,279.80 L183.70,280.25 L184.40,279.44 L185.10,280.21 L185.80,281.42 L186.50,282.38 L187.20,283.23 L187.90,282.09 L188.60,283.69 L189.30,282.21 L190.00,281.53 L190.70,279.66 L191.40,279.55 L192.10,278.26 L192.80,278.82 L193.50,277.41 L194.20,279.89 L194.90,280.73 L195.60,282.13 L196.30,282.76 L197.00,282.25 L197.70,282.17 L198.40,281.84 L199.10,279.55 L199.80,278.53 L200.50,278.53 L201.20,279.84 L201.90,278.54 L202.60,279.11 L203.30,278.79 L204.00,279.84 L204.70,280.64 L205.40,279.48 L206.10,278.51 L206.80,280.35 L207.50,281.31 L208.20,280.98 L208.90,281.58 L209.60,281.26 L210.30,281.43 L211.00,280.70 L211.70,281.07 L212.40,282.44 L213.10,283.23 L213.80,283.59 L214.50,282.68 L215.20,282.73 L215.90,281.29 L216.60,280.20 L217.30,279.68 L218.00,277.94 L218.70,277.79 L219.40,275.72 L220.10,277.41 L220.80,277.74 L221.50,277.07 L222.20,274.89 L222.90,272.60 L223.60,270.77 L224.30,268.77 L225.00,269.87 L225.70,271.61 L226.40,279.77 L227.10,284.79 L227.80,285.68 L228.50,281.11 L229.20,277.76 L229.90,280.41 L230.60,284.21 L231.30,287.62 L232.00,287.64 L232.70,284.52 L233.40,283.21 L234.10,282.73 L234.80,284.98 L235.50,286.38 L236.20,287.30 L236.90,286.37 L237.60,283.07 L238.30,281.69 L239.00,282.23 L239.70,285.75 L240.40,286.93 L241.10,280.63 L241.80,281.55 L242.50,282.86" fill="none" stroke="#525b9a" stroke-width="1.2"/>
<path d="M11.50,379.16 L12.00,379.08 L12.50,380.15 L13.00,380.08 L13.50,379.92 L14.00,379.88 L14.50,379.54 L15.00,379.21 L15.50,379.33 L16.00,379.13 L16.50,379.36 L17.00,379.22 L17.50,378.62 L18.00,378.28 L18.50,378.15 L19.00,377.70 L19.50,377.93 L20.00,378.06 L20.50,378.54 L21.00,378.36 L21.50,378.42 L22.00,378.71 L22.50,379.00 L23.00,378.68 L23.50,379.22 L24.00,378.98 L24.50,379.36 L25.00,379.20 L25.50,379.03 L26.00,378.63 L26.50,378.66 L27.00,379.48 L27.50,379.19 L28.00,379.63 L28.50,379.92 L29.00,379.62 L29.50,379.84 L30.00,380.11 L30.50,379.79 L31.00,379.47 L31.50,379.73 L32.00,379.69 L32.50,380.22 L33.00,380.12 L33.50,379.53 L34.00,379.41 L34.50,378.96 L35.00,379.20 L35.50,379.39 L36.00,379.18 L36.50,378.87 L37.00,379.17 L37.50,379.02 L38.00,379.40 L38.50,379.01 L39.00,378.93 L39.50,378.77 L40.00,378.49 L40.50,379.45 L41.00,379.89 L41.50,379.52 L42.00,379.66 L42.50,378.96 L43.00,379.37 L43.50,379.64 L44.00,379.40 L44.50,379.21 L45.00,379.25 L45.50,379.35 L46.00,379.16 L46.50,378.87 L47.00,378.81 L47.50,378.72 L48.00,379.02 L48.50,379.05 L49.00,379.11 L49.50,378.57 L50.00,378.54 L50.50,378.51 L51.00,378.45 L51.50,378.52 L52.00,378.53 L52.50,378.14 L53.00,378.61 L53.50,378.99 L54.00,378.83 L54.50,379.06 L55.00,378.76 L55.50,378.42 L56.00,378.47 L56.50,379.07 L57.00,379.03 L57.50,378.55 L58.00,378.72 L58.50,378.60 L59.00,378.46 L59.50,378.69 L60.00,378.21 L60.50,377.81 L61.00,377.59 L61.50,378.23 L62.00,378.42 L62.50,378.35 L63.00,378.28 L63.50,378.64 L64.00,379.11 L64.50,378.87 L65.00,378.99 L65.50,379.74 L66.00,379.79 L66.50,379.53 L67.00,379.52 L67.50,379.44 L68.00,379.54 L68.50,379.51 L69.00,379.21 L69.50,379.06 L70.00,379.07 L70.50,378.71 L71.00,378.62 L71.50,378.19 L72.00,378.46 L72.50,378.70 L73.00,378.05 L73.50,377.96 L74.00,377.56 L74.50,377.08 L75.00,376.44 L75.50,375.92 L76.00,375.55 L76.50,374.35 L77.00,373.86 L77.50,372.79 L78.00,371.34 L78.50,370.04 L79.00,368.59 L79.50,366.30 L80.00,363.34 L80.50,359.15 L81.00,353.76 L81.50,347.77 L82.00,340.28 L82.50,333.29 L83.00,326.69 L83.50,321.53 L84.00,318.85 L84.50,319.04 L85.00,322.17 L85.50,327.60 L86.00,334.44 L86.50,341.23 L87.00,347.74 L87.50,354.22 L88.00,359.19 L88.50,363.03 L89.00,366.02 L89.50,367.95 L90.00,370.23 L90.50,371.54 L91.00,372.57 L91.50,373.17 L92.00,374.34 L92.50,375.29 L93.00,376.35 L93.50,377.06 L94.00,377.14 L94.50,377.10 L95.00,377.90 L95.50,377.93 L96.00,378.13 L96.50,378.29 L97.00,378.62 L97.50,378.90 L98.00,378.64 L98.50,378.54 L99.00,378.13 L99.50,378.50 L100.00,378.58 L100.50,378.17 L101.00,378.68 L101.50,378.77 L102.00,378.52 L102.50,378.51 L103.00,378.45 L103.50,378.61 L104.00,378.77 L104.50,378.66 L105.00,378.88 L105.50,378.12 L106.00,378.20 L106.50,378.58 L107.00,378.98 L107.50,379.25 L108.00,378.90 L108.50,378.41 L109.00,378.44 L109.50,379.28 L110.00,379.32 L110.50,379.05 L111.00,378.54 L111.50,378.69 L112.00,378.63 L112.50,378.88 L113.00,378.98 L113.50,378.27 L114.00,378.40 L114.50,378.78 L115.00,378.66 L115.50,378.37 L116.00,378.15 L116.50,377.93 L117.00,378.84 L117.50,379.32 L118.00,379.08 L118.50,379.51 L119.00,379.09 L119.50,378.92 L120.00,378.72 L120.50,378.73 L121.00,379.00 L121.50,379.64 L122.00,379.76 L122.50,379.59 L123.00,379.53 L123.50,379.37 L124.00,379.42 L124.50,379.08 L125.00,379.16 L125.50,379.28 L126.00,379.53 L126.50,379.18 L127.00,379.29 L127.50,379.33 L128.00,379.03 L128.50,378.43 L129.00,378.38 L129.50,378.79 L130.00,378.76 L130.50,379.52 L131.00,379.60 L131.50,379.27 L132.00,379.20 L132.50,379.31 L133.00,379.41 L133.50,379.27 L134.00,379.37 L134.50,380.21 L135.00,380.26 L135.50,380.07 L136.00,379.73 L136.50,379.05 L137.00,379.10 L137.50,378.97 L138.00,378.97 L138.50,378.82 L139.00,379.10 L139.50,379.42 L140.00,379.14 L140.50,378.70 L141.00,378.87 L141.50,379.33 L142.00,379.40 L142.50,379.48 L143.00,378.97 L143.50,378.82 L144.00,379.04 L144.50,379.16 L145.00,379.13 L145.50,379.29 L146.00,379.51 L146.50,379.44 L147.00,379.15 L147.50,378.70 L148.00,378.83 L148.50,378.82 L149.00,378.81 L149.50,379.20 L150.00,378.97 L150.50,378.90 L151.00,379.13 L151.50,378.84 L152.00,378.23 L152.50,378.23 L153.00,378.64 L153.50,378.54 L154.00,378.56 L154.50,378.09 L155.00,378.65 L155.50,378.20 L156.00,378.16 L156.50,378.29 L157.00,379.03 L157.50,379.07 L158.00,378.85 L158.50,378.43 L159.00,378.46 L159.50,378.20 L160.00,378.18 L160.50,378.37 L161.00,378.88 L161.50,378.57 L162.00,379.08 L162.50,378.48 L163.00,379.19 L163.50,378.96 L164.00,378.86 L164.50,378.76 L165.00,378.88 L165.50,378.90 L166.00,378.83 L166.50,378.66 L167.00,378.57 L167.50,378.68 L168.00,378.59 L168.50,378.47 L169.00,378.15 L169.50,378.33 L170.00,378.63 L170.50,378.40 L171.00,378.83 L171.50,378.86 L172.00,378.93 L172.50,378.43 L173.00,378.74 L173.50,379.19 L174.00,379.74 L174.50,379.42 L175.00,379.33 L175.50,379.49 L176.00,379.57 L176.50,379.27 L177.00,379.24 L177.50,379.50 L178.00,379.58 L178.50,379.45 L179.00,379.69 L179.50,379.11 L180.00,379.23 L180.50,378.99 L181.00,378.89 L181.50,379.17 L182.00,379.67 L182.50,379.68 L183.00,379.59 L183.50,379.98 L184.00,380.03 L184.50,379.16 L185.00,378.96 L185.50,378.77 L186.00,378.63 L186.50,378.26 L187.00,378.61 L187.50,378.75 L188.00,379.34 L188.50,379.20 L189.00,379.21 L189.50,378.95 L190.00,379.28 L190.50,379.62 L191.00,380.01 L191.50,380.13 L192.00,379.75 L192.50,379.98 L193.00,379.52 L193.50,379.25 L194.00,379.16 L194.50,379.77 L195.00,379.42 L195.50,379.05 L196.00,379.13 L196.50,379.48 L197.00,379.57 L197.50,379.64 L198.00,379.27 L198.50,379.12 L199.00,379.50 L199.50,379.45 L200.00,379.18 L200.50,379.06 L201.00,379.47 L201.50,379.91 L202.00,379.87 L202.50,379.47 L203.00,379.89 L203.50,379.54 L204.00,379.48 L204.50,379.53 L205.00,379.44 L205.50,379.32 L206.00,379.76 L206.50,379.73 L207.00,379.17 L207.50,378.98 L208.00,379.40 L208.50,379.29 L209.00,378.95 L209.50,379.25 L210.00,379.37 L210.50,379.33 L211.00,379.45 L211.50,379.27 L212.00,379.29 L212.50,379.43 L213.00,379.20 L213.50,379.55 L214.00,379.15 L214.50,379.76 L215.00,379.65 L215.50,379.66 L216.00,379.18 L216.50,379.40 L217.00,379.09 L217.50,379.24 L218.00,379.22 L218.50,378.96 L219.00,379.52 L219.50,379.49 L220.00,379.26 L220.50,379.12 L221.00,379.21 L221.50,379.21 L222.00,379.44 L222.50,379.21 L223.00,379.25 L223.50,379.08 L224.00,378.88 L224.50,379.17 L225.00,378.91 L225.50,378.47 L226.00,378.79 L226.50,378.71 L227.00,378.96 L227.50,379.14 L228.00,379.29 L228.50,379.28 L229.00,379.71 L229.50,379.28 L230.00,379.60 L230.50,379.46 L231.00,379.48 L231.50,379.28 L232.00,379.51 L232.50,379.58 L233.00,379.35 L233.50,379.32 L234.00,379.43 L234.50,379.33 L235.00,380.02 L235.50,380.02 L236.00,379.72 L236.50,379.91 L237.00,379.83 L237.50,379.54 L238.00,379.36 L238.50,378.84 L239.00,379.12 L239.50,379.58 L240.00,379.47 L240.50,379.16 L241.00,378.65 L241.50,378.38 L242.00,378.53 L242.50,378.47" fill="none" stroke="#b4b4b4" stroke-width="1"/>
<path d="M11.50,379.95 L12.00,380.11 L12.50,380.04 L13.00,379.96 L13.50,380.01 L14.00,380.21 L14.50,380.26 L15.00,380.13 L15.50,380.05 L16.00,380.05 L16.50,380.16 L17.00,380.16 L17.50,380.11 L18.00,380.08 L18.50,380.10 L19.00,380.01 L19.50,380.00 L20.00,380.02 L20.50,380.19 L21.00,380.16 L21.50,380.24 L22.00,380.10 L22.50,380.17 L23.00,380.15 L23.50,380.06 L24.00,380.02 L24.50,380.09 L25.00,380.01 L25.50,380.08 L26.00,380.20 L26.50,380.32 L27.00,380.43 L27.50,380.22 L28.00,380.19 L28.50,380.05 L29.00,380.09 L29.50,380.03 L30.00,379.99 L30.50,379.97 L31.00,379.84 L31.50,379.79 L32.00,379.64 L32.50,379.80 L33.00,379.68 L33.50,379.62 L34.00,379.36 L34.50,379.14 L35.00,379.01 L35.50,379.05 L36.00,379.08 L36.50,379.06 L37.00,378.94 L37.50,379.09 L38.00,378.92 L38.50,378.78 L39.00,378.79 L39.50,378.63 L40.00,378.62 L40.50,378.69 L41.00,378.63 L41.50,378.64 L42.00,378.60 L42.50,378.48 L43.00,378.10 L43.50,377.96 L44.00,377.94 L44.50,377.76 L45.00,377.70 L45.50,377.72 L46.00,377.87 L46.50,377.72 L47.00,377.66 L47.50,377.69 L48.00,377.76 L48.50,377.61 L49.00,377.83 L49.50,377.74 L50.00,377.87 L50.50,377.85 L51.00,377.90 L51.50,378.09 L52.00,378.16 L52.50,378.18 L53.00,378.07 L53.50,378.00 L54.00,377.86 L54.50,378.10 L55.00,377.94 L55.50,377.69 L56.00,377.90 L56.50,378.07 L57.00,378.06 L57.50,378.18 L58.00,378.11 L58.50,378.08 L59.00,378.17 L59.50,378.25 L60.00,378.23 L60.50,378.44 L61.00,378.55 L61.50,378.59 L62.00,378.49 L62.50,378.54 L63.00,378.55 L63.50,378.58 L64.00,378.70 L64.50,378.68 L65.00,378.75 L65.50,378.88 L66.00,378.95 L66.50,379.24 L67.00,379.07 L67.50,379.10 L68.00,379.01 L68.50,379.04 L69.00,379.36 L69.50,379.21 L70.00,379.22 L70.50,379.33 L71.00,379.38 L71.50,379.52 L72.00,379.38 L72.50,379.53 L73.00,379.46 L73.50,379.37 L74.00,379.47 L74.50,379.57 L75.00,379.53 L75.50,379.48 L76.00,379.50 L76.50,379.54 L77.00,379.57 L77.50,379.50 L78.00,379.29 L78.50,379.49 L79.00,379.55 L79.50,379.46 L80.00,379.33 L80.50,379.31 L81.00,379.32 L81.50,379.14 L82.00,379.35 L82.50,379.44 L83.00,379.45 L83.50,379.53 L84.00,379.59 L84.50,379.73 L85.00,379.77 L85.50,379.93 L86.00,380.10 L86.50,380.07 L87.00,380.01 L87.50,379.92 L88.00,379.89 L88.50,379.81 L89.00,379.81 L89.50,379.84 L90.00,379.90 L90.50,379.76 L91.00,379.87 L91.50,379.82 L92.00,379.79 L92.50,379.72 L93.00,379.49 L93.50,379.51 L94.00,379.30 L94.50,379.42 L95.00,379.41 L95.50,379.56 L96.00,379.60 L96.50,379.65 L97.00,379.76 L97.50,379.71 L98.00,379.83 L98.50,379.76 L99.00,379.74 L99.50,379.61 L100.00,379.61 L100.50,379.63 L101.00,379.51 L101.50,379.32 L102.00,379.26 L102.50,379.26 L103.00,379.19 L103.50,379.03 L104.00,378.91 L104.50,378.83 L105.00,378.50 L105.50,378.41 L106.00,378.54 L106.50,378.36 L107.00,378.30 L107.50,378.44 L108.00,378.47 L108.50,378.51 L109.00,378.43 L109.50,378.21 L110.00,378.45 L110.50,378.38 L111.00,378.29 L111.50,378.35 L112.00,378.28 L112.50,378.12 L113.00,377.81 L113.50,377.58 L114.00,377.33 L114.50,376.99 L115.00,376.60 L115.50,376.16 L116.00,375.77 L116.50,375.30 L117.00,374.88 L117.50,374.48 L118.00,373.94 L118.50,373.31 L119.00,372.80 L119.50,372.12 L120.00,371.16 L120.50,370.24 L121.00,369.37 L121.50,368.36 L122.00,367.49 L122.50,366.33 L123.00,365.14 L123.50,364.28 L124.00,363.38 L124.50,362.27 L125.00,361.38 L125.50,360.69 L126.00,359.78 L126.50,358.96 L127.00,358.22 L127.50,357.62 L128.00,357.06 L128.50,356.75 L129.00,356.47 L129.50,356.49 L130.00,356.87 L130.50,357.01 L131.00,357.48 L131.50,358.10 L132.00,358.45 L132.50,359.17 L133.00,359.97 L133.50,360.81 L134.00,361.83 L134.50,362.77 L135.00,363.83 L135.50,364.84 L136.00,365.88 L136.50,366.85 L137.00,368.14 L137.50,369.15 L138.00,370.00 L138.50,371.15 L139.00,372.21 L139.50,373.01 L140.00,373.71 L140.50,374.34 L141.00,375.14 L141.50,375.70 L142.00,376.17 L142.50,376.76 L143.00,377.17 L143.50,377.55 L144.00,378.11 L144.50,378.50 L145.00,378.88 L145.50,379.14 L146.00,379.46 L146.50,379.59 L147.00,379.81 L147.50,380.03 L148.00,380.06 L148.50,379.98 L149.00,380.10 L149.50,380.13 L150.00,380.23 L150.50,380.19 L151.00,380.27 L151.50,380.39 L152.00,380.65 L152.50,380.83 L153.00,380.85 L153.50,380.98 L154.00,380.87 L154.50,380.96 L155.00,380.93 L155.50,381.03 L156.00,381.02 L156.50,380.94 L157.00,380.81 L157.50,380.90 L158.00,380.85 L158.50,380.88 L159.00,380.87 L159.50,380.59 L160.00,380.60 L160.50,380.51 L161.00,380.50 L161.50,380.50 L162.00,380.25 L162.50,380.17 L163.00,380.11 L163.50,380.11 L164.00,380.16 L164.50,380.04 L165.00,379.96 L165.50,379.98 L166.00,379.72 L166.50,379.88 L167.00,379.72 L167.50,379.81 L168.00,379.77 L168.50,379.92 L169.00,379.96 L169.50,379.88 L170.00,379.63 L170.50,379.58 L171.00,379.55 L171.50,379.54 L172.00,379.34 L172.50,379.19 L173.00,379.05 L173.50,379.04 L174.00,378.89 L174.50,378.83 L175.00,378.89 L175.50,378.80 L176.00,378.90 L176.50,378.88 L177.00,378.80 L177.50,378.87 L178.00,378.87 L178.50,378.78 L179.00,378.66 L179.50,378.61 L180.00,378.60 L180.50,378.68 L181.00,378.66 L181.50,378.54 L182.00,378.35 L182.50,378.35 L183.00,378.36 L183.50,378.45 L184.00,378.35 L184.50,378.18 L185.00,378.24 L185.50,378.20 L186.00,378.04 L186.50,378.21 L187.00,378.29 L187.50,378.27 L188.00,378.28 L188.50,378.18 L189.00,378.27 L189.50,378.21 L190.00,378.15 L190.50,378.11 L191.00,377.98 L191.50,378.10 L192.00,378.28 L192.50,378.36 L193.00,378.13 L193.50,378.11 L194.00,378.05 L194.50,378.11 L195.00,377.89 L195.50,377.69 L196.00,377.69 L196.50,377.84 L197.00,377.86 L197.50,378.15 L198.00,378.09 L198.50,378.13 L199.00,378.15 L199.50,378.11 L200.00,378.27 L200.50,378.17 L201.00,378.11 L201.50,378.12 L202.00,378.13 L202.50,378.31 L203.00,378.31 L203.50,378.42 L204.00,378.43 L204.50,378.62 L205.00,378.67 L205.50,378.75 L206.00,378.62 L206.50,378.76 L207.00,378.74 L207.50,378.90 L208.00,379.00 L208.50,379.11 L209.00,379.28 L209.50,379.36 L210.00,379.30 L210.50,379.36 L211.00,379.42 L211.50,379.33 L212.00,379.44 L212.50,379.64 L213.00,379.69 L213.50,379.74 L214.00,379.81 L214.50,379.96 L215.00,379.92 L215.50,380.04 L216.00,379.98 L216.50,380.05 L217.00,380.12 L217.50,379.99 L218.00,380.08 L218.50,380.12 L219.00,379.95 L219.50,379.92 L220.00,379.87 L220.50,379.79 L221.00,379.86 L221.50,379.79 L222.00,379.82 L222.50,379.72 L223.00,379.71 L223.50,379.93 L224.00,379.98 L224.50,379.81 L225.00,379.72 L225.50,379.72 L226.00,379.55 L226.50,379.67 L227.00,379.67 L227.50,379.67 L228.00,379.68 L228.50,379.60 L229.00,379.48 L229.50,379.15 L230.00,378.99 L230.50,379.04 L231.00,379.13 L231.50,379.12 L232.00,378.93 L232.50,378.90 L233.00,378.92 L233.50,378.79 L234.00,378.95 L234.50,378.83 L235.00,378.83 L235.50,378.71 L236.00,378.81 L236.50,378.67 L237.00,378.57 L237.50,378.70 L238.00,378.55 L238.50,378.49 L239.00,378.55 L239.50,378.58 L240.00,378.37 L240.50,378.43 L241.00,378.39 L241.50,378.51 L242.00,378.31 L242.50,378.38" fill="none" stroke="#a26874" stroke-width="1.2"/>
<path d="M11.50,379.65 L12.00,379.19 L12.50,379.25 L13.00,379.12 L13.50,378.83 L14.00,378.69 L14.50,378.60 L15.00,378.65 L15.50,378.84 L16.00,379.17 L16.50,379.20 L17.00,379.48 L17.50,379.51 L18.00,379.43 L18.50,379.27 L19.00,378.91 L19.50,378.44 L20.00,378.51 L20.50,378.54 L21.00,378.72 L21.50,378.85 L22.00,378.49 L22.50,378.36 L23.00,378.14 L23.50,378.59 L24.00,378.62 L24.50,378.71 L25.00,378.48 L25.50,378.18 L26.00,378.15 L26.50,378.26 L27.00,378.52 L27.50,378.14 L28.00,378.38 L28.50,378.22 L29.00,378.19 L29.50,378.22 L30.00,378.21 L30.50,378.46 L31.00,378.78 L31.50,378.88 L32.00,378.69 L32.50,378.81 L33.00,378.89 L33.50,379.10 L34.00,379.07 L34.50,378.49 L35.00,378.26 L35.50,378.16 L36.00,378.45 L36.50,378.32 L37.00,378.44 L37.50,378.22 L38.00,377.42 L38.50,376.88 L39.00,376.26 L39.50,375.36 L40.00,373.72 L40.50,372.71 L41.00,371.49 L41.50,370.13 L42.00,369.75 L42.50,369.39 L43.00,369.69 L43.50,371.03 L44.00,372.52 L44.50,373.19 L45.00,373.17 L45.50,372.95 L46.00,371.41 L46.50,368.62 L47.00,364.50 L47.50,360.48 L48.00,354.37 L48.50,347.17 L49.00,339.86 L49.50,332.11 L50.00,323.76 L50.50,316.20 L51.00,308.96 L51.50,303.09 L52.00,299.05 L52.50,296.81 L53.00,297.17 L53.50,300.43 L54.00,304.67 L54.50,311.01 L55.00,318.65 L55.50,326.60 L56.00,334.85 L56.50,342.27 L57.00,349.48 L57.50,355.91 L58.00,361.60 L58.50,366.10 L59.00,369.09 L59.50,371.06 L60.00,373.17 L60.50,374.16 L61.00,373.68 L61.50,373.32 L62.00,372.46 L62.50,371.57 L63.00,370.42 L63.50,369.99 L64.00,369.91 L64.50,370.37 L65.00,371.60 L65.50,372.79 L66.00,373.64 L66.50,374.38 L67.00,375.41 L67.50,376.73 L68.00,377.66 L68.50,377.89 L69.00,378.53 L69.50,378.78 L70.00,378.64 L70.50,378.82 L71.00,378.81 L71.50,378.49 L72.00,378.44 L72.50,378.58 L73.00,379.04 L73.50,378.70 L74.00,378.82 L74.50,378.85 L75.00,378.85 L75.50,378.50 L76.00,378.96 L76.50,379.35 L77.00,379.75 L77.50,379.73 L78.00,380.02 L78.50,379.96 L79.00,380.06 L79.50,379.74 L80.00,379.65 L80.50,379.41 L81.00,379.00 L81.50,378.86 L82.00,378.54 L82.50,378.29 L83.00,378.31 L83.50,378.26 L84.00,379.02 L84.50,379.54 L85.00,379.75 L85.50,379.83 L86.00,379.40 L86.50,379.39 L87.00,378.87 L87.50,378.70 L88.00,378.61 L88.50,378.57 L89.00,378.91 L89.50,378.68 L90.00,379.46 L90.50,379.21 L91.00,379.42 L91.50,378.85 L92.00,379.15 L92.50,378.74 L93.00,378.85 L93.50,378.87 L94.00,379.14 L94.50,379.29 L95.00,379.34 L95.50,379.22 L96.00,379.76 L96.50,379.46 L97.00,379.37 L97.50,379.15 L98.00,379.15 L98.50,378.83 L99.00,378.73 L99.50,378.93 L100.00,378.76 L100.50,378.94 L101.00,378.77 L101.50,379.24 L102.00,379.15 L102.50,379.64 L103.00,379.66 L103.50,379.48 L104.00,379.67 L104.50,379.88 L105.00,380.16" fill="none" stroke="#111" stroke-width="1.7"/>
<path d="M11.50,378.53 L12.20,376.67 L12.90,378.81 L13.60,382.30 L14.30,382.02 L15.00,382.74 L15.70,383.30 L16.40,383.20 L17.10,383.11 L17.80,383.43 L18.50,382.04 L19.20,379.50 L19.90,377.39 L20.60,378.56 L21.30,379.19 L22.00,379.10 L22.70,376.43 L23.40,376.79 L24.10,377.26 L24.80,376.55 L25.50,376.28 L26.20,379.43 L26.90,380.86 L27.60,381.31 L28.30,381.07 L29.00,380.04 L29.70,379.36 L30.40,380.07 L31.10,378.83 L31.80,378.60 L32.50,380.59 L33.20,378.70 L33.90,377.87 L34.60,380.21 L35.30,380.34 L36.00,380.21 L36.70,378.94 L37.40,377.32 L38.10,379.13 L38.80,376.11 L39.50,377.36 L40.20,377.13 L40.90,377.49 L41.60,375.46 L42.30,377.38 L43.00,378.47 L43.70,378.93 L44.40,379.43 L45.10,377.76 L45.80,378.27 L46.50,379.01 L47.20,378.91 L47.90,375.29 L48.60,376.09 L49.30,376.94 L50.00,376.16 L50.70,376.94 L51.40,378.95 L52.10,378.86 L52.80,380.41 L53.50,379.43 L54.20,378.47 L54.90,378.90 L55.60,377.89 L56.30,376.21 L57.00,377.30 L57.70,377.72 L58.40,378.72 L59.10,377.78 L59.80,377.58 L60.50,378.50 L61.20,378.05 L61.90,378.04 L62.60,378.54 L63.30,377.78 L64.00,378.37 L64.70,376.82 L65.40,377.93 L66.10,381.30 L66.80,381.47 L67.50,380.39 L68.20,378.16 L68.90,377.03 L69.60,377.19 L70.30,376.74 L71.00,377.88 L71.70,378.32 L72.40,379.38 L73.10,379.02 L73.80,379.94 L74.50,381.28 L75.20,379.67 L75.90,379.38 L76.60,379.13 L77.30,379.00 L78.00,380.32 L78.70,379.60 L79.40,378.42 L80.10,377.02 L80.80,375.81 L81.50,376.50 L82.20,378.15 L82.90,378.42 L83.60,377.64 L84.30,377.79 L85.00,377.05 L85.70,378.71 L86.40,378.92 L87.10,380.63 L87.80,380.99 L88.50,381.22 L89.20,379.59 L89.90,380.04 L90.60,379.34 L91.30,378.64 L92.00,378.94 L92.70,380.82 L93.40,380.84 L94.10,382.27 L94.80,380.87 L95.50,375.57 L96.20,369.84 L96.90,366.07 L97.60,361.81 L98.30,360.97 L99.00,363.89 L99.70,369.72 L100.40,375.09 L101.10,377.46 L101.80,378.74 L102.50,379.51 L103.20,378.29 L103.90,378.26 L104.60,377.67 L105.30,377.34 L106.00,376.80 L106.70,376.70 L107.40,376.40 L108.10,379.09 L108.80,378.94 L109.50,379.43 L110.20,378.49 L110.90,378.84 L111.60,379.45 L112.30,381.21 L113.00,382.70 L113.70,381.34 L114.40,382.85 L115.10,382.05 L115.80,382.75 L116.50,381.82 L117.20,382.02 L117.90,381.24 L118.60,379.23 L119.30,379.91 L120.00,379.42 L120.70,379.27 L121.40,379.58 L122.10,380.10 L122.80,382.72 L123.50,380.68 L124.20,379.79 L124.90,378.63 L125.60,380.23 L126.30,379.69 L127.00,378.95 L127.70,379.59 L128.40,379.63 L129.10,380.17 L129.80,378.31 L130.50,378.60 L131.20,379.46 L131.90,378.79 L132.60,380.33 L133.30,379.99 L134.00,378.96 L134.70,378.60 L135.40,379.39 L136.10,380.55 L136.80,379.72 L137.50,380.27 L138.20,379.66 L138.90,378.57 L139.60,377.66 L140.30,378.91 L141.00,378.52 L141.70,378.90 L142.40,380.86 L143.10,381.60 L143.80,380.58 L144.50,379.96 L145.20,380.11 L145.90,377.57 L146.60,378.75 L147.30,378.10 L148.00,379.22 L148.70,378.45 L149.40,378.28 L150.10,379.46 L150.80,380.15 L151.50,381.96 L152.20,380.78 L152.90,379.74 L153.60,381.31 L154.30,381.42 L155.00,379.60 L155.70,379.01 L156.40,379.54 L157.10,378.94 L157.80,377.41 L158.50,377.94 L159.20,378.78 L159.90,380.33 L160.60,381.30 L161.30,381.69 L162.00,380.17 L162.70,378.61 L163.40,377.64 L164.10,378.69 L164.80,379.83 L165.50,377.60 L166.20,378.64 L166.90,379.78 L167.60,381.34 L168.30,381.67 L169.00,382.13 L169.70,381.68 L170.40,380.74 L171.10,380.21 L171.80,379.92 L172.50,378.47 L173.20,378.53 L173.90,379.83 L174.60,379.32 L175.30,380.68 L176.00,379.34 L176.70,379.79 L177.40,378.77 L178.10,380.07 L178.80,380.66 L179.50,381.37 L180.20,381.74 L180.90,381.68 L181.60,382.31 L182.30,381.76 L183.00,378.38 L183.70,378.73 L184.40,379.43 L185.10,376.81 L185.80,378.72 L186.50,378.75 L187.20,380.02 L187.90,379.48 L188.60,379.62 L189.30,378.59 L190.00,378.47 L190.70,376.90 L191.40,377.75 L192.10,377.67 L192.80,377.31 L193.50,376.95 L194.20,376.41 L194.90,377.07 L195.60,377.46 L196.30,377.54 L197.00,379.46 L197.70,378.17 L198.40,377.94 L199.10,376.76 L199.80,377.05 L200.50,377.36 L201.20,375.77 L201.90,376.99 L202.60,375.22 L203.30,375.59 L204.00,376.14 L204.70,375.42 L205.40,377.85 L206.10,378.34 L206.80,377.05 L207.50,377.97 L208.20,378.68 L208.90,378.14 L209.60,377.44 L210.30,378.90 L211.00,381.52 L211.70,381.17 L212.40,383.03 L213.10,380.12 L213.80,378.01 L214.50,378.37 L215.20,377.83 L215.90,378.42 L216.60,380.65 L217.30,379.09 L218.00,379.57 L218.70,379.40 L219.40,377.87 L220.10,377.90 L220.80,376.92 L221.50,377.17 L222.20,379.30 L222.90,380.41 L223.60,381.27 L224.30,380.87 L225.00,379.84 L225.70,381.98 L226.40,381.27 L227.10,381.21 L227.80,381.86 L228.50,381.00 L229.20,381.06 L229.90,380.52 L230.60,380.55 L231.30,381.20 L232.00,379.16 L232.70,379.24 L233.40,378.60 L234.10,378.49 L234.80,379.04 L235.50,380.71 L236.20,377.94 L236.90,380.14 L237.60,379.21 L238.30,378.21 L239.00,377.60 L239.70,378.15 L240.40,378.55 L241.10,376.68 L241.80,375.42 L242.50,377.41" fill="none" stroke="#525b9a" stroke-width="1.2"/>
<line x1="8.7" y1="286.5" x2="242.7" y2="286.5" stroke="#111" stroke-width="1.3"/>
<line x1="39.2" y1="286.5" x2="39.2" y2="288.7" stroke="#111" stroke-width="0.8"/>
<line x1="82.6" y1="286.5" x2="82.6" y2="288.7" stroke="#111" stroke-width="0.8"/>
<line x1="125.6" y1="286.5" x2="125.6" y2="288.7" stroke="#111" stroke-width="0.8"/>
<line x1="168.8" y1="286.5" x2="168.8" y2="288.7" stroke="#111" stroke-width="0.8"/>
<line x1="212" y1="286.5" x2="212" y2="288.7" stroke="#111" stroke-width="0.8"/>
<line x1="8.7" y1="384.4" x2="242.7" y2="384.4" stroke="#111" stroke-width="1.3"/>
<line x1="39.2" y1="384.4" x2="39.2" y2="386.59999999999997" stroke="#111" stroke-width="0.8"/>
<line x1="82.6" y1="384.4" x2="82.6" y2="386.59999999999997" stroke="#111" stroke-width="0.8"/>
<line x1="125.6" y1="384.4" x2="125.6" y2="386.59999999999997" stroke="#111" stroke-width="0.8"/>
<line x1="168.8" y1="384.4" x2="168.8" y2="386.59999999999997" stroke="#111" stroke-width="0.8"/>
<line x1="212" y1="384.4" x2="212" y2="386.59999999999997" stroke="#111" stroke-width="0.8"/>
<text x="39.2" y="394.6" font-size="8.5" fill="#222" text-anchor="middle" font-weight="bold" >-122</text>
<text x="82.3" y="394.6" font-size="8.5" fill="#222" text-anchor="middle" font-weight="bold" >-123</text>
<text x="125.3" y="394.6" font-size="8.5" fill="#222" text-anchor="middle" font-weight="bold" >-124</text>
<text x="168.5" y="394.6" font-size="8.5" fill="#222" text-anchor="middle" font-weight="bold" >-125</text>
<polyline points="68.9,286.8 68.9,289.8 52.7,292.3 52.7,296" fill="none" stroke="#111" stroke-width="1"/>
<polyline points="79.6,286.8 79.6,298 84.4,302.7 84.4,316" fill="none" stroke="#aaa" stroke-width="0.9"/>
<polyline points="116.8,286.8 116.8,306.2 97.9,312 97.9,348" fill="none" stroke="#4a5598" stroke-width="1"/>
<polyline points="181.2,286.8 181.2,303.7 129.4,329.9 129.4,356.7" fill="none" stroke="#a26874" stroke-width="1.2"/>
<text x="10.3" y="257.6" font-size="8.6" fill="#222" text-anchor="start" font-weight="bold" >apo</text>
<text x="8.6" y="350.2" font-size="8.8" fill="#222" text-anchor="start" font-weight="bold" >ADP</text>
<text x="51.3" y="239.9" font-size="8.6" fill="#222" text-anchor="start" font-weight="bold" >WT</text>
<text x="80.4" y="214.7" font-size="8.8" fill="#8e8e8e" text-anchor="start" font-weight="bold" >K380A</text>
<text x="105.8" y="257.8" font-size="8.7" fill="#525a88" text-anchor="start" font-weight="bold" >R389K</text>
<text x="168.8" y="255.8" font-size="8.7" fill="#7a5e68" text-anchor="start" font-weight="bold" >R389M</text>
<text x="35" y="306" font-size="8.6" fill="#222" text-anchor="start" font-weight="bold" >WT</text>
<text x="64.6" y="316.9" font-size="8.8" fill="#8e8e8e" text-anchor="start" font-weight="bold" >K380A</text>
<text x="90.6" y="357" font-size="8.7" fill="#525a88" text-anchor="start" font-weight="bold" >R389K</text>
<text x="134.2" y="359.6" font-size="8.8" fill="#7a5e68" text-anchor="start" font-weight="bold" >R389M</text>
<circle cx="44.3" cy="200.8" r="18.5" fill="none" stroke="#444" stroke-width="0.9" stroke-dasharray="2.3,1.7"/>
<path d="M22.8,183.5 C26,180.5 30,179.3 34.5,179.3 C38.5,179.5 41.5,181 42.8,183.5 C43.5,188 42.5,193 40,197 C38,199.5 35,200 32,198.5 C28.5,196.5 26.5,192 25.5,188 C24.8,186 23.8,184.8 22.8,183.5 Z" fill="#8a8ea8"/>
<path d="M25.8,187.5 C27,193 29,197 32.5,198.8 C36,200 39,198.5 40.5,195.5 C40,190 36.5,185.5 31,185 C28.5,185 26.8,186 25.8,187.5 Z" fill="#6a6e8e"/>
<polyline points="37.2,187.8 42.7,191.1 43.5,200.2" fill="none" stroke="#e8781e" stroke-width="2.3" stroke-linejoin="round"/>
<path d="M43.5,200.2 L41,202.5 L41.4,207.5 L44.6,209 L47.6,206.5 L47.2,202 Z" fill="none" stroke="#e8781e" stroke-width="2.3" stroke-linejoin="round"/>
<path d="M44.6,209 L42.2,211.5 L43.2,216 L46.6,217 L49.8,214 L49.2,208.5 L47.6,206.5" fill="none" stroke="#e8781e" stroke-width="2.3" stroke-linejoin="round"/>
<line x1="50.2" y1="207.4" x2="53.6" y2="207.4" stroke="#1a8a86" stroke-width="1.2"/>
<text x="53.2" y="209.4" font-size="7.2" fill="#1a8a86" text-anchor="start" font-weight="bold" >F</text>
<rect x="276.6" y="41.5" width="51.799999999999955" height="49.6" fill="#ffffff" stroke="#2a2a2a" stroke-width="1.3"/>
<path d="M277.10,40.80 C277.82,40.60 279.73,39.87 281.40,39.60 C283.07,39.33 285.37,39.87 287.10,39.20 C288.83,38.53 290.70,36.67 291.80,35.60 C292.90,34.53 292.90,33.63 293.70,32.80 C294.50,31.97 295.57,30.70 296.60,30.60 C297.63,30.50 298.72,31.48 299.90,32.20 C301.08,32.92 302.68,34.83 303.70,34.90 C304.72,34.97 305.22,34.10 306.00,32.60 C306.78,31.10 307.63,27.43 308.40,25.90 C309.17,24.37 309.88,23.17 310.60,23.40 C311.32,23.63 311.88,25.38 312.70,27.30 C313.52,29.22 314.55,32.88 315.50,34.90 C316.45,36.92 317.45,38.58 318.40,39.40 C319.35,40.22 320.17,40.32 321.20,39.80 C322.23,39.28 324.03,36.88 324.60,36.30" fill="none" stroke="#222" stroke-width="0.95"/>
<text x="273" y="40" font-size="9.5" fill="#111" text-anchor="end" font-weight="bold" >WT</text>
<line x1="328.4" y1="54.0" x2="331.59999999999997" y2="54.0" stroke="#222" stroke-width="0.9"/>
<text x="332.4" y="55.9" font-size="9.1" fill="#222" text-anchor="start" font-weight="bold" >125.7</text>
<line x1="328.4" y1="66.4" x2="331.59999999999997" y2="66.4" stroke="#222" stroke-width="0.9"/>
<text x="332.4" y="68.30000000000001" font-size="9.1" fill="#222" text-anchor="start" font-weight="bold" >125.9</text>
<line x1="328.4" y1="78.8" x2="331.59999999999997" y2="78.8" stroke="#222" stroke-width="0.9"/>
<text x="332.4" y="80.7" font-size="9.1" fill="#222" text-anchor="start" font-weight="bold" >126.1</text>
<line x1="286.4" y1="91.1" x2="286.4" y2="93.69999999999999" stroke="#222" stroke-width="0.9"/>
<text x="286.0" y="101.3" font-size="9.1" fill="#222" text-anchor="middle" font-weight="bold" >9.7</text>
<line x1="306.2" y1="91.1" x2="306.2" y2="93.69999999999999" stroke="#222" stroke-width="0.9"/>
<text x="305.8" y="101.3" font-size="9.1" fill="#222" text-anchor="middle" font-weight="bold" >9.6</text>
<line x1="325.6" y1="91.1" x2="325.6" y2="93.69999999999999" stroke="#222" stroke-width="0.9"/>
<text x="325.20000000000005" y="101.3" font-size="9.1" fill="#222" text-anchor="middle" font-weight="bold" >9.5</text>
<rect x="276.6" y="136.7" width="51.799999999999955" height="49.6" fill="#ececf6" stroke="#2a2a2a" stroke-width="1.3"/>
<path d="M276.60,132.30 C276.88,132.52 277.77,132.98 278.30,133.60 C278.83,134.22 279.28,136.13 279.80,136.00 C280.32,135.87 280.87,133.33 281.40,132.80 C281.93,132.27 282.48,132.27 283.00,132.80 C283.52,133.33 283.95,135.53 284.50,136.00 C285.05,136.47 285.72,136.10 286.30,135.60 C286.88,135.10 287.38,133.50 288.00,133.00 C288.62,132.50 289.27,132.33 290.00,132.60 C290.73,132.87 291.65,134.32 292.40,134.60 C293.15,134.88 293.77,134.37 294.50,134.30 C295.23,134.23 295.95,134.32 296.80,134.20 C297.65,134.08 298.77,134.07 299.60,133.60 C300.43,133.13 301.12,132.32 301.80,131.40 C302.48,130.48 303.07,128.43 303.70,128.10 C304.33,127.77 304.88,129.02 305.60,129.40 C306.32,129.78 307.27,130.57 308.00,130.40 C308.73,130.23 309.37,129.47 310.00,128.40 C310.63,127.33 311.12,125.08 311.80,124.00 C312.48,122.92 313.23,122.28 314.10,121.90 C314.97,121.52 316.18,121.57 317.00,121.70 C317.82,121.83 318.42,121.73 319.00,122.70 C319.58,123.67 320.03,125.92 320.50,127.50 C320.97,129.08 321.30,132.03 321.80,132.20 C322.30,132.37 322.83,129.58 323.50,128.50 C324.17,127.42 325.18,125.73 325.80,125.70 C326.42,125.67 326.77,127.17 327.20,128.30 C327.63,129.43 328.20,131.80 328.40,132.50" fill="none" stroke="#4a5590" stroke-width="0.95"/>
<text x="273" y="132.9" font-size="9.5" fill="#4a5088" text-anchor="end" font-weight="bold" >R389K</text>
<line x1="328.4" y1="149.2" x2="331.59999999999997" y2="149.2" stroke="#222" stroke-width="0.9"/>
<text x="332.4" y="151.1" font-size="9.1" fill="#222" text-anchor="start" font-weight="bold" >125.7</text>
<line x1="328.4" y1="161.6" x2="331.59999999999997" y2="161.6" stroke="#222" stroke-width="0.9"/>
<text x="332.4" y="163.5" font-size="9.1" fill="#222" text-anchor="start" font-weight="bold" >125.9</text>
<line x1="328.4" y1="174.0" x2="331.59999999999997" y2="174.0" stroke="#222" stroke-width="0.9"/>
<text x="332.4" y="175.9" font-size="9.1" fill="#222" text-anchor="start" font-weight="bold" >126.1</text>
<line x1="286.4" y1="186.29999999999998" x2="286.4" y2="188.89999999999998" stroke="#222" stroke-width="0.9"/>
<text x="286.0" y="196.49999999999997" font-size="9.1" fill="#222" text-anchor="middle" font-weight="bold" >9.7</text>
<line x1="306.2" y1="186.29999999999998" x2="306.2" y2="188.89999999999998" stroke="#222" stroke-width="0.9"/>
<text x="305.8" y="196.49999999999997" font-size="9.1" fill="#222" text-anchor="middle" font-weight="bold" >9.6</text>
<line x1="325.6" y1="186.29999999999998" x2="325.6" y2="188.89999999999998" stroke="#222" stroke-width="0.9"/>
<text x="325.20000000000005" y="196.49999999999997" font-size="9.1" fill="#222" text-anchor="middle" font-weight="bold" >9.5</text>
<rect x="276.6" y="235.2" width="51.799999999999955" height="49.6" fill="#fdf2ed" stroke="#2a2a2a" stroke-width="1.3"/>
<path d="M277.00,235.50 C277.50,235.40 278.80,235.35 280.00,234.90 C281.20,234.45 282.55,233.72 284.20,232.80 C285.85,231.88 288.40,230.03 289.90,229.40 C291.40,228.77 292.08,229.23 293.20,229.00 C294.32,228.77 295.40,227.93 296.60,228.00 C297.80,228.07 299.13,228.85 300.40,229.40 C301.67,229.95 303.02,231.68 304.20,231.30 C305.38,230.92 306.40,228.83 307.50,227.10 C308.60,225.37 309.80,222.37 310.80,220.90 C311.80,219.43 312.55,218.07 313.50,218.30 C314.45,218.53 315.37,220.52 316.50,222.30 C317.63,224.08 319.12,227.50 320.30,229.00 C321.48,230.50 322.42,231.23 323.60,231.30 C324.78,231.37 326.77,229.72 327.40,229.40" fill="none" stroke="#7a3a3a" stroke-width="0.95"/>
<text x="273" y="232.2" font-size="9.5" fill="#7a3030" text-anchor="end" font-weight="bold" >W413F</text>
<line x1="328.4" y1="247.7" x2="331.59999999999997" y2="247.7" stroke="#222" stroke-width="0.9"/>
<text x="332.4" y="249.6" font-size="9.1" fill="#222" text-anchor="start" font-weight="bold" >125.7</text>
<line x1="328.4" y1="260.09999999999997" x2="331.59999999999997" y2="260.09999999999997" stroke="#222" stroke-width="0.9"/>
<text x="332.4" y="261.99999999999994" font-size="9.1" fill="#222" text-anchor="start" font-weight="bold" >125.9</text>
<line x1="328.4" y1="272.5" x2="331.59999999999997" y2="272.5" stroke="#222" stroke-width="0.9"/>
<text x="332.4" y="274.4" font-size="9.1" fill="#222" text-anchor="start" font-weight="bold" >126.1</text>
<line x1="286.4" y1="284.8" x2="286.4" y2="287.40000000000003" stroke="#222" stroke-width="0.9"/>
<text x="286.0" y="295.0" font-size="9.1" fill="#222" text-anchor="middle" font-weight="bold" >9.7</text>
<line x1="306.2" y1="284.8" x2="306.2" y2="287.40000000000003" stroke="#222" stroke-width="0.9"/>
<text x="305.8" y="295.0" font-size="9.1" fill="#222" text-anchor="middle" font-weight="bold" >9.6</text>
<line x1="325.6" y1="284.8" x2="325.6" y2="287.40000000000003" stroke="#222" stroke-width="0.9"/>
<text x="325.20000000000005" y="295.0" font-size="9.1" fill="#222" text-anchor="middle" font-weight="bold" >9.5</text>
<rect x="276.6" y="334.8" width="51.799999999999955" height="49.6" fill="#f8f8ee" stroke="#2a2a2a" stroke-width="1.3"/>
<path d="M280.00,332.90 C281.18,332.93 285.13,333.48 287.10,333.10 C289.07,332.72 290.47,331.30 291.80,330.60 C293.13,329.90 294.23,329.58 295.10,328.90 C295.97,328.22 296.28,327.27 297.00,326.50 C297.72,325.73 298.60,324.38 299.40,324.30 C300.20,324.22 300.85,325.05 301.80,326.00 C302.75,326.95 303.68,329.23 305.10,330.00 C306.52,330.77 308.95,330.87 310.30,330.60 C311.65,330.33 312.35,330.12 313.20,328.40 C314.05,326.68 314.62,322.62 315.40,320.30 C316.18,317.98 317.17,315.13 317.90,314.50 C318.63,313.87 319.00,314.73 319.80,316.50 C320.60,318.27 321.67,322.80 322.70,325.10 C323.73,327.40 325.17,329.80 326.00,330.30 C326.83,330.80 327.42,328.47 327.70,328.10" fill="none" stroke="#857a35" stroke-width="0.95"/>
<text x="273" y="331.8" font-size="9.5" fill="#8a7a2c" text-anchor="end" font-weight="bold" >R414K</text>
<line x1="328.4" y1="347.3" x2="331.59999999999997" y2="347.3" stroke="#222" stroke-width="0.9"/>
<text x="332.4" y="349.2" font-size="9.1" fill="#222" text-anchor="start" font-weight="bold" >125.7</text>
<line x1="328.4" y1="359.7" x2="331.59999999999997" y2="359.7" stroke="#222" stroke-width="0.9"/>
<text x="332.4" y="361.59999999999997" font-size="9.1" fill="#222" text-anchor="start" font-weight="bold" >125.9</text>
<line x1="328.4" y1="372.1" x2="331.59999999999997" y2="372.1" stroke="#222" stroke-width="0.9"/>
<text x="332.4" y="374.0" font-size="9.1" fill="#222" text-anchor="start" font-weight="bold" >126.1</text>
<line x1="286.4" y1="384.40000000000003" x2="286.4" y2="387.00000000000006" stroke="#222" stroke-width="0.9"/>
<text x="286.0" y="394.6" font-size="9.1" fill="#222" text-anchor="middle" font-weight="bold" >9.7</text>
<line x1="306.2" y1="384.40000000000003" x2="306.2" y2="387.00000000000006" stroke="#222" stroke-width="0.9"/>
<text x="305.8" y="394.6" font-size="9.1" fill="#222" text-anchor="middle" font-weight="bold" >9.6</text>
<line x1="325.6" y1="384.40000000000003" x2="325.6" y2="387.00000000000006" stroke="#222" stroke-width="0.9"/>
<text x="282.7" y="8.8" font-size="8.2" fill="#111" text-anchor="middle" font-weight="bold" >Walker A</text>
<text x="282.7" y="18.1" font-size="8.2" fill="#111" text-anchor="middle" font-weight="bold" >Lysine</text>
<text x="283" y="27.4" font-size="8.2" fill="#111" text-anchor="middle" font-weight="bold" >(K380)</text>
<text x="311.6" y="21" font-size="7.6" fill="#111" text-anchor="start" font-weight="bold" >K551</text>
<path d="M292.2,63.8 C294,61.4 297,60.2 300,60.8 L304,60.4 L305,65.6 L300.5,66.2 C297.5,67.6 294.5,67 292.2,63.8 Z" fill="#6a6a6a"/>
<ellipse cx="297" cy="63.8" rx="2.6" ry="1.6" fill="#9a9a9a"/>
<path d="M303.2,62.6 C304.5,58.2 307.2,54.8 310.8,54.6 C314.4,54.6 316.3,57.6 316.3,61 C316.1,64.6 313.6,66.9 310.5,66.9 C307.4,66.9 304.8,65.2 303.2,62.6 Z" fill="#3c3c3c"/>
<path d="M305.6,62.3 C306.6,59.2 308.6,56.8 311,56.7 C313.4,56.8 314.5,58.8 314.4,61.2 C314.2,63.6 312.5,65.1 310.5,65.1 C308.4,65 306.6,64 305.6,62.3 Z" fill="#6e6e6e"/>
<ellipse cx="310.9" cy="61" rx="1.6" ry="2.6" fill="#d0d0d0" transform="rotate(20 310.9 61)"/>
<ellipse cx="304.4" cy="155.5" rx="3.2" ry="2.4" fill="#4a5590"/>
<path d="M306.5,156 L308.5,160 L310.5,157" fill="none" stroke="#6a72a8" stroke-width="0.7"/>
<path d="M309.8,156.5 C310,152 313,149.8 315.5,149.8 C318,150.5 320,153 321.3,155.2 C319,158.5 315,159.8 312,159.4 C310.5,158.8 309.8,157.8 309.8,156.5 Z" fill="#4a5590"/>
<path d="M313.5,156.2 L315.6,152.2 L317.6,156.2 Z" fill="#c8cbe4"/>
<ellipse cx="295.4" cy="256.4" rx="7" ry="4.6" fill="none" stroke="#c89a9a" stroke-width="0.7"/>
<ellipse cx="295.4" cy="256.4" rx="5" ry="3.2" fill="none" stroke="#c89a9a" stroke-width="0.6"/>
<path d="M305.2,253.5 C305.5,249 309,245.5 313.5,243.8 C318,245.5 321.5,249 322,253.5 C321,258 317,260.6 313.5,260.6 C309.5,260.5 305.5,258 305.2,253.5 Z" fill="#7e4444"/>
<path d="M306.8,253.5 C307.2,249.8 310,247 313.5,245.6 C317,247 320,249.8 320.4,253.5 C319.6,257 316.5,259 313.5,259 C310.5,259 307.2,257 306.8,253.5 Z" fill="#985a5a"/>
<ellipse cx="313.6" cy="253" rx="4.2" ry="4.8" fill="#a86a6a"/>
<ellipse cx="313.6" cy="253.2" rx="1.2" ry="2.4" fill="#e0c4c4"/>
<path d="M291,356.3 C294,352.6 298,351.6 301,352.6 C304,353.6 307,354.8 310,355.2 L310,357 C307,357.5 304,358.5 301,360 C298,361.2 294,360.2 291,356.3 Z" fill="#8e7f2e"/>
<ellipse cx="297.3" cy="356.3" rx="2.4" ry="2" fill="#a89a50"/>
<path d="M310,353.5 C310.5,349 314,346.7 318.5,346.7 C323.5,346.8 326.6,350 326.6,353.2 C326.4,357 323,359.8 318.2,359.7 C313.5,359.6 310.2,357 310,353.5 Z" fill="#8a7a28"/>
<ellipse cx="318.6" cy="353" rx="4.5" ry="3.5" fill="#a29448"/>
<ellipse cx="318.6" cy="353" rx="1.2" ry="2" fill="#d8d0a8"/>
<line x1="296.6" y1="23" x2="296.6" y2="384.3" stroke="#222" stroke-width="0.9" stroke-dasharray="2.1,1.6"/>
<text x="0" y="11.0" font-size="16" fill="#111" text-anchor="start" font-weight="bold" >A</text>
<text x="0.3" y="195" font-size="15.5" fill="#111" text-anchor="start" font-weight="bold" >B</text>
<text x="232.4" y="11.4" font-size="16.2" fill="#111" text-anchor="start" font-weight="bold" >C</text>
<text x="405" y="10.9" font-size="16" fill="#111" text-anchor="start" font-weight="bold" >D</text>
<rect x="437.1" y="41.7" width="91.10000000000002" height="59.5" fill="#efeef6" stroke="#1a1a1a" stroke-width="1.3"/>
<line x1="528.2" y1="65.2" x2="531.2" y2="65.2" stroke="#1a1a1a" stroke-width="1"/>
<line x1="528.2" y1="92.3" x2="531.2" y2="92.3" stroke="#1a1a1a" stroke-width="1"/>
<line x1="446.9" y1="101.2" x2="446.9" y2="103.7" stroke="#1a1a1a" stroke-width="0.9"/>
<text x="446" y="111.5" font-size="9.1" fill="#222" text-anchor="middle" font-weight="bold" >7.79</text>
<line x1="500.5" y1="101.2" x2="500.5" y2="103.7" stroke="#1a1a1a" stroke-width="0.9"/>
<text x="499.6" y="111.5" font-size="9.1" fill="#222" text-anchor="middle" font-weight="bold" >7.62</text>
<rect x="547.8" y="41.7" width="90.80000000000007" height="59.5" fill="#efeef6" stroke="#1a1a1a" stroke-width="1.3"/>
<line x1="638.6" y1="65.2" x2="641.6" y2="65.2" stroke="#1a1a1a" stroke-width="1"/>
<line x1="638.6" y1="92.3" x2="641.6" y2="92.3" stroke="#1a1a1a" stroke-width="1"/>
<line x1="557.9" y1="101.2" x2="557.9" y2="103.7" stroke="#1a1a1a" stroke-width="0.9"/>
<text x="557" y="111.5" font-size="9.1" fill="#222" text-anchor="middle" font-weight="bold" >7.79</text>
<line x1="610.6" y1="101.2" x2="610.6" y2="103.7" stroke="#1a1a1a" stroke-width="0.9"/>
<text x="609.7" y="111.5" font-size="9.1" fill="#222" text-anchor="middle" font-weight="bold" >7.62</text>
<text transform="translate(649.3,59.3) rotate(-90)" font-size="8.7" fill="#222" text-anchor="middle" font-weight="bold">110.3</text>
<text transform="translate(649.3,90.8) rotate(-90)" font-size="8.7" fill="#222" text-anchor="middle" font-weight="bold">111.2</text>
<rect x="437.1" y="140.5" width="90.39999999999998" height="59.30000000000001" fill="#fdf4ee" stroke="#1a1a1a" stroke-width="1.3"/>
<line x1="527.5" y1="163" x2="530.5" y2="163" stroke="#1a1a1a" stroke-width="1"/>
<line x1="527.5" y1="190.6" x2="530.5" y2="190.6" stroke="#1a1a1a" stroke-width="1"/>
<line x1="446.9" y1="199.8" x2="446.9" y2="202.3" stroke="#1a1a1a" stroke-width="0.9"/>
<text x="446" y="210.10000000000002" font-size="9.1" fill="#222" text-anchor="middle" font-weight="bold" >8.75</text>
<line x1="495.9" y1="199.8" x2="495.9" y2="202.3" stroke="#1a1a1a" stroke-width="0.9"/>
<text x="495" y="210.10000000000002" font-size="9.1" fill="#222" text-anchor="middle" font-weight="bold" >8.20</text>
<rect x="547.8" y="140.5" width="90.80000000000007" height="59.30000000000001" fill="#fdf4ee" stroke="#1a1a1a" stroke-width="1.3"/>
<line x1="638.6" y1="163" x2="641.6" y2="163" stroke="#1a1a1a" stroke-width="1"/>
<line x1="638.6" y1="190.6" x2="641.6" y2="190.6" stroke="#1a1a1a" stroke-width="1"/>
<line x1="557.9" y1="199.8" x2="557.9" y2="202.3" stroke="#1a1a1a" stroke-width="0.9"/>
<text x="557" y="210.10000000000002" font-size="9.1" fill="#222" text-anchor="middle" font-weight="bold" >8.75</text>
<line x1="605.9" y1="199.8" x2="605.9" y2="202.3" stroke="#1a1a1a" stroke-width="0.9"/>
<text x="605" y="210.10000000000002" font-size="9.1" fill="#222" text-anchor="middle" font-weight="bold" >8.20</text>
<text transform="translate(649.3,157.6) rotate(-90)" font-size="8.7" fill="#222" text-anchor="middle" font-weight="bold">121.2</text>
<text transform="translate(649.3,190) rotate(-90)" font-size="8.7" fill="#222" text-anchor="middle" font-weight="bold">123.2</text>
<rect x="437.4" y="225.5" width="91.20000000000005" height="59.80000000000001" fill="#fdf4ee" stroke="#1a1a1a" stroke-width="1.3"/>
<line x1="528.6" y1="248.5" x2="531.6" y2="248.5" stroke="#1a1a1a" stroke-width="1"/>
<line x1="528.6" y1="276" x2="531.6" y2="276" stroke="#1a1a1a" stroke-width="1"/>
<line x1="457.7" y1="285.3" x2="457.7" y2="287.8" stroke="#1a1a1a" stroke-width="0.9"/>
<text x="456.8" y="295.6" font-size="9.1" fill="#222" text-anchor="middle" font-weight="bold" >10.20</text>
<line x1="499.9" y1="285.3" x2="499.9" y2="287.8" stroke="#1a1a1a" stroke-width="0.9"/>
<text x="499" y="295.6" font-size="9.1" fill="#222" text-anchor="middle" font-weight="bold" >9.75</text>
<rect x="547.8" y="225.5" width="90.80000000000007" height="59.80000000000001" fill="#fdf4ee" stroke="#1a1a1a" stroke-width="1.3"/>
<line x1="638.6" y1="248.5" x2="641.6" y2="248.5" stroke="#1a1a1a" stroke-width="1"/>
<line x1="638.6" y1="276" x2="641.6" y2="276" stroke="#1a1a1a" stroke-width="1"/>
<line x1="567.6999999999999" y1="285.3" x2="567.6999999999999" y2="287.8" stroke="#1a1a1a" stroke-width="0.9"/>
<text x="566.8" y="295.6" font-size="9.1" fill="#222" text-anchor="middle" font-weight="bold" >10.20</text>
<line x1="610.6" y1="285.3" x2="610.6" y2="287.8" stroke="#1a1a1a" stroke-width="0.9"/>
<text x="609.7" y="295.6" font-size="9.1" fill="#222" text-anchor="middle" font-weight="bold" >9.75</text>
<text transform="translate(649.3,244.7) rotate(-90)" font-size="8.7" fill="#222" text-anchor="middle" font-weight="bold">129.4</text>
<text transform="translate(649.3,274.5) rotate(-90)" font-size="8.7" fill="#222" text-anchor="middle" font-weight="bold">131.3</text>
<rect x="437.2" y="324.1" width="90.40000000000003" height="59.69999999999999" fill="#f9f8ef" stroke="#1a1a1a" stroke-width="1.3"/>
<line x1="527.6" y1="347.5" x2="530.6" y2="347.5" stroke="#1a1a1a" stroke-width="1"/>
<line x1="527.6" y1="375.2" x2="530.6" y2="375.2" stroke="#1a1a1a" stroke-width="1"/>
<line x1="447.4" y1="383.8" x2="447.4" y2="386.3" stroke="#1a1a1a" stroke-width="0.9"/>
<text x="446.5" y="394.1" font-size="9.1" fill="#222" text-anchor="middle" font-weight="bold" >8.68</text>
<line x1="495.9" y1="383.8" x2="495.9" y2="386.3" stroke="#1a1a1a" stroke-width="0.9"/>
<text x="495" y="394.1" font-size="9.1" fill="#222" text-anchor="middle" font-weight="bold" >8.34</text>
<rect x="547.8" y="324.1" width="90.80000000000007" height="59.69999999999999" fill="#f9f8ef" stroke="#1a1a1a" stroke-width="1.3"/>
<line x1="638.6" y1="347.5" x2="641.6" y2="347.5" stroke="#1a1a1a" stroke-width="1"/>
<line x1="638.6" y1="375.2" x2="641.6" y2="375.2" stroke="#1a1a1a" stroke-width="1"/>
<line x1="557.9" y1="383.8" x2="557.9" y2="386.3" stroke="#1a1a1a" stroke-width="0.9"/>
<text x="557" y="394.1" font-size="9.1" fill="#222" text-anchor="middle" font-weight="bold" >8.68</text>
<line x1="607.9" y1="383.8" x2="607.9" y2="386.3" stroke="#1a1a1a" stroke-width="0.9"/>
<text x="607" y="394.1" font-size="9.1" fill="#222" text-anchor="middle" font-weight="bold" >8.34</text>
<text transform="translate(649.3,343.3) rotate(-90)" font-size="8.7" fill="#222" text-anchor="middle" font-weight="bold">113.6</text>
<text transform="translate(649.3,373.8) rotate(-90)" font-size="8.7" fill="#222" text-anchor="middle" font-weight="bold">115.8</text>
<text x="484.5" y="24.3" font-size="10.6" fill="#222" text-anchor="middle" font-weight="bold" >apo</text>
<text x="595.2" y="23.2" font-size="10.4" fill="#222" text-anchor="middle" font-weight="bold" >ADP</text>
<text x="665.3" y="76" font-size="10.2" fill="#222" text-anchor="start" font-weight="bold" >R</text>
<text x="672.4" y="71.5" font-size="5.2" fill="#222" text-anchor="start" font-weight="bold" >WA</text>
<text x="663.6" y="360" font-size="10.2" fill="#222" text-anchor="start" font-weight="bold" >R</text>
<text x="671" y="356.2" font-size="5.2" fill="#222" text-anchor="start" font-weight="bold" >ICD2</text>
<text x="671" y="172.3" font-size="9.6" fill="#222" text-anchor="middle" font-weight="bold" >bb</text>
<text x="670.5" y="252.8" font-size="9.6" fill="#222" text-anchor="middle" font-weight="bold" >sc</text>
<text x="670.5" y="217.6" font-size="17" fill="#222" text-anchor="middle" font-family="Liberation Serif, serif">ϕ</text>
<line x1="670.6" y1="139" x2="670.6" y2="164" stroke="#222" stroke-width="0.9"/>
<line x1="670.6" y1="174.5" x2="670.6" y2="199" stroke="#222" stroke-width="0.9"/>
<line x1="670.6" y1="219.5" x2="670.6" y2="241.5" stroke="#222" stroke-width="0.9"/>
<line x1="670.6" y1="256.5" x2="670.6" y2="285" stroke="#222" stroke-width="0.9"/>
<text transform="translate(659.6,231.5) rotate(-90)" font-size="7.3" fill="#222" font-weight="bold">δ<tspan font-size="4.5" dy="-2.6">15</tspan><tspan dy="2.6">N ppm</tspan></text>
<text x="625" y="395" font-size="8" fill="#222" font-weight="bold"><tspan font-weight="normal" font-size="8.6">δ</tspan><tspan font-size="4.6" dy="-3">1</tspan><tspan dy="3">H ppm</tspan></text>
<text x="319.5" y="395" font-size="8.4" fill="#222" font-weight="bold"><tspan font-weight="normal" font-size="9">δ</tspan><tspan font-size="4.8" dy="-3">1</tspan><tspan dy="3">H ppm</tspan></text>
<text x="204" y="395.2" font-size="8.2" fill="#222" font-weight="bold"><tspan font-weight="normal" font-size="8.8">δ</tspan><tspan font-size="4.6" dy="-3">19</tspan><tspan dy="3">F ppm</tspan></text>
<text x="456.6" y="56.8" font-size="10.2" fill="#b3a0c9" text-anchor="start" font-weight="bold" >K380A</text>
<text x="505.6" y="64.9" font-size="10.2" fill="#7a62a8" text-anchor="start" font-weight="bold" >WT</text>
<ellipse cx="500" cy="52.8" rx="4.6" ry="4" fill="#b3a0c6"/>
<ellipse cx="504.6" cy="50" rx="4.2" ry="2.5" fill="#7d66aa" transform="rotate(-18 504.6 50)"/>
<ellipse cx="499.6" cy="53.5" rx="2.6" ry="2" fill="#c2b2d4"/>
<text x="580.9" y="53.9" font-size="10.2" fill="#0e4a4f" text-anchor="start" font-weight="bold" >K380A</text>
<text x="559.5" y="88" font-size="10.2" fill="#3f827e" text-anchor="start" font-weight="bold" >WT</text>
<ellipse cx="604.2" cy="58.8" rx="7" ry="3.4" fill="#0f4d52" transform="rotate(-10 604.2 58.8)"/>
<ellipse cx="604.5" cy="58.9" rx="3.6" ry="1.2" fill="#6a9696" transform="rotate(-10 604.5 58.9)"/>
<ellipse cx="566.8" cy="94.7" rx="4.9" ry="3.2" fill="#5fb3aa"/>
<text x="491" y="169.3" font-size="10.2" fill="#dfa27c" text-anchor="start" font-weight="bold" >WT</text>
<text x="452.4" y="188.4" font-size="10.2" fill="#c07a4c" text-anchor="start" font-weight="bold" >K380A</text>
<ellipse cx="485.3" cy="172.6" rx="4.5" ry="3.8" fill="#e2a67e"/>
<ellipse cx="480.3" cy="173.6" rx="2.8" ry="2.8" fill="#b8764c"/>
<text x="572.5" y="160.3" font-size="10.2" fill="#4aa39a" text-anchor="start" font-weight="bold" >WT</text>
<path d="M582.7,169.5 C583.5,165.5 586,163.7 589,163.7 C592,163.9 594,166.5 594.2,169.3 C592,171.5 589,171.4 586,171.2 C584.5,171 583.2,170.5 582.7,169.5 Z" fill="#52aaa1"/>
<text x="550.4" y="178" font-size="6.15" fill="#222" text-anchor="start" font-weight="bold" ><tspan font-size="4.2">ϕ</tspan><tspan font-size="3" dy="1">ca</tspan><tspan dy="-1"> resonance</tspan></text>
<text x="550.4" y="184.1" font-size="6.15" fill="#222" text-anchor="start" font-weight="bold" >in the K380A mutant</text>
<text x="550.4" y="190.6" font-size="6.15" fill="#222" text-anchor="start" font-weight="bold" >is not visible due to</text>
<text x="550.4" y="197" font-size="6.15" fill="#222" text-anchor="start" font-weight="bold" >extreme line broadening</text>
<text x="506.7" y="240.2" font-size="10.2" fill="#dfa27c" text-anchor="start" font-weight="bold" >WT</text>
<text x="476.1" y="265.6" font-size="10.2" fill="#c07a4c" text-anchor="start" font-weight="bold" >K380A</text>
<ellipse cx="515.2" cy="249" rx="4" ry="4.5" fill="#e2a67e"/>
<path d="M507.2,246 C509,247.5 509.5,251 509.3,253 C509,255 508,255.5 507.2,255.5 C506.2,255.5 505,254.5 505,252.5 C505,250 505.8,247.5 507.2,246 Z" fill="#a8683e"/>
<text x="555.8" y="251.8" font-size="10.2" fill="#4aa39a" text-anchor="start" font-weight="bold" >WT</text>
<text x="602.3" y="240.5" font-size="10.2" fill="#0e4a4f" text-anchor="start" font-weight="bold" >K380A</text>
<ellipse cx="566.4" cy="258.9" rx="3.2" ry="5" fill="#52aaa1"/>
<path d="M621.1,248 C621.1,245.5 623,245 625,245.2 C627,245.5 628.5,247 631,248 C628.5,249 627,250.5 625,250.9 C623,251.1 621.1,250.5 621.1,248 Z" fill="#0f4d52"/>
<text x="485.1" y="351.8" font-size="10.2" fill="#c8c27e" text-anchor="start" font-weight="bold" >WT</text>
<text x="451.5" y="371.8" font-size="10.2" fill="#9a9040" text-anchor="start" font-weight="bold" >K380A</text>
<ellipse cx="479.5" cy="355.6" rx="4" ry="4" fill="#a39a48"/>
<ellipse cx="479.3" cy="356.3" rx="3.5" ry="1.3" fill="#7d7328"/>
<text x="578.7" y="345.9" font-size="10.2" fill="#5aaea6" text-anchor="start" font-weight="bold" >WT</text>
<text x="590.6" y="369.7" font-size="10.2" fill="#0e4a4f" text-anchor="start" font-weight="bold" >K380A</text>
<ellipse cx="588.4" cy="353.1" rx="3" ry="4.8" fill="#5fb3aa"/>
<ellipse cx="588.6" cy="353.3" rx="1.3" ry="2.8" fill="#8ccac2"/>
<path d="M591.1,351.5 L596.5,352 L595.8,355 L594.8,358.5 L593,358.5 L592.5,355 L591.1,354.5 Z" fill="#0f4d52"/>
<line x1="368.4" y1="41.3" x2="368.4" y2="384.5" stroke="#777" stroke-width="1"/>
<line x1="406.5" y1="41.3" x2="406.5" y2="384.5" stroke="#777" stroke-width="1"/>
<text transform="translate(380.3,226.5) rotate(-90)" font-size="7.95" fill="#111" text-anchor="middle" font-weight="bold">Effect of hinge mutants on nucleotide binding site</text>
<text transform="translate(391.8,226.2) rotate(90)" font-size="7.9" fill="#111" text-anchor="middle" font-weight="bold">Effect of nucleotide binding site mutant&#160; on hinge residues</text>
</svg></body></html>
